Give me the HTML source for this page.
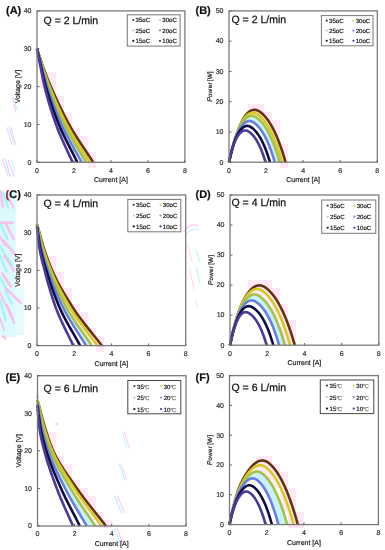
<!DOCTYPE html><html><head><meta charset="utf-8"><style>html,body{margin:0;padding:0;background:#fff;}svg{display:block;will-change:transform;}text{font-family:"Liberation Sans", sans-serif;text-rendering:geometricPrecision;}</style></head><body>
<svg width="385" height="550" viewBox="0 0 385 550">
<rect width="385" height="550" fill="#fff"/>
<g>
<g><rect x="0" y="192" width="15.8" height="145" fill="#dcfafd"/><rect x="15.8" y="288" width="8.5" height="47" fill="#e6fbfd"/><path d="M0.3 191L2.8 207" stroke="#ffb4ea" stroke-width="2.6" stroke-linecap="round" opacity="0.75"/><path d="M2.5 192L8 207.5" stroke="#9ef0f8" stroke-width="2.6" stroke-linecap="round" opacity="0.8"/><path d="M7.5 196L13.2 207.5" stroke="#ffb4ea" stroke-width="2.34" stroke-linecap="round" opacity="0.75"/><path d="M1.2 222.6L12.5 222.8" stroke="#ffb4ea" stroke-width="3.12" stroke-linecap="round" opacity="0.75"/><path d="M5.5 223.5L13.4 238.5" stroke="#ffb4ea" stroke-width="2.86" stroke-linecap="round" opacity="0.75"/><path d="M0.2 223.5L7.4 239" stroke="#9ef0f8" stroke-width="2.6" stroke-linecap="round" opacity="0.8"/><path d="M0.2 236.5L5.2 245.5" stroke="#ffb4ea" stroke-width="2.34" stroke-linecap="round" opacity="0.75"/><path d="M3.4 240.5L15 254.3" stroke="#ffb4ea" stroke-width="2.86" stroke-linecap="round" opacity="0.75"/><path d="M0.2 246L6.4 257.5" stroke="#9ef0f8" stroke-width="2.6" stroke-linecap="round" opacity="0.8"/><path d="M0.2 255.5L6.4 271.2" stroke="#9ef0f8" stroke-width="2.6" stroke-linecap="round" opacity="0.8"/><path d="M4.6 256.2L14 270.2" stroke="#ffb4ea" stroke-width="2.86" stroke-linecap="round" opacity="0.75"/><path d="M8 258L12.5 266" stroke="#9ef0f8" stroke-width="2.08" stroke-linecap="round" opacity="0.8"/><path d="M2.4 273.6L10.8 286.4" stroke="#ffb4ea" stroke-width="2.86" stroke-linecap="round" opacity="0.75"/><path d="M0.2 277L6.4 289.8" stroke="#9ef0f8" stroke-width="2.6" stroke-linecap="round" opacity="0.8"/><path d="M6.6 289L20.5 302.8" stroke="#ffb4ea" stroke-width="2.86" stroke-linecap="round" opacity="0.75"/><path d="M5.6 291.2L11.8 303.8" stroke="#9ef0f8" stroke-width="2.34" stroke-linecap="round" opacity="0.8"/><path d="M0.2 293L4 302" stroke="#ffb4ea" stroke-width="2.08" stroke-linecap="round" opacity="0.75"/><path d="M5.4 304L11.6 316" stroke="#ffb4ea" stroke-width="2.6" stroke-linecap="round" opacity="0.75"/><path d="M0.2 300L5.6 320" stroke="#9ef0f8" stroke-width="2.6" stroke-linecap="round" opacity="0.8"/><path d="M6.6 304.6L14 322.6" stroke="#ffb4ea" stroke-width="2.6" stroke-linecap="round" opacity="0.75"/><path d="M0.2 318L4 330" stroke="#ffb4ea" stroke-width="2.08" stroke-linecap="round" opacity="0.75"/><path d="M3 336.5L5.6 338.5" stroke="#ffb4ea" stroke-width="2.86" stroke-linecap="round" opacity="0.75"/><path d="M12.4 98L15.8 112" stroke="#ffb4ea" stroke-width="1" stroke-linecap="round" opacity="0.75"/><path d="M13.8 98L16.8 110" stroke="#9ef0f8" stroke-width="0.9" stroke-linecap="round" opacity="0.8"/><path d="M7 127.5L12 144.5" stroke="#ffb4ea" stroke-width="1" stroke-linecap="round" opacity="0.75"/><path d="M9.3 127.5L14.5 144.5" stroke="#9ef0f8" stroke-width="1.2" stroke-linecap="round" opacity="0.8"/><path d="M11.2 128L15.6 144" stroke="#ffb4ea" stroke-width="0.9" stroke-linecap="round" opacity="0.75"/><path d="M2.3 159L8 176" stroke="#ffb4ea" stroke-width="1.1" stroke-linecap="round" opacity="0.75"/><path d="M5 159L10.2 176" stroke="#9ef0f8" stroke-width="1.4" stroke-linecap="round" opacity="0.8"/><path d="M8 160L14 176" stroke="#ffb4ea" stroke-width="1.1" stroke-linecap="round" opacity="0.75"/><path d="M12 160L15 172" stroke="#9ef0f8" stroke-width="0.8" stroke-linecap="round" opacity="0.8"/><path d="M122.6 433L127 448" stroke="#9ef0f8" stroke-width="1" stroke-linecap="round" opacity="0.8"/><path d="M124.4 432L129.4 448" stroke="#ffb4ea" stroke-width="1" stroke-linecap="round" opacity="0.75"/><path d="M119.4 464L124.4 480" stroke="#9ef0f8" stroke-width="1.1" stroke-linecap="round" opacity="0.8"/><path d="M121.4 464L126.6 480" stroke="#ffb4ea" stroke-width="1" stroke-linecap="round" opacity="0.75"/><path d="M114.8 496L121.6 513" stroke="#9ef0f8" stroke-width="1.1" stroke-linecap="round" opacity="0.8"/><path d="M117.4 496L124.8 513" stroke="#ffb4ea" stroke-width="1.1" stroke-linecap="round" opacity="0.75"/><path d="M114.8 528L120.6 545" stroke="#9ef0f8" stroke-width="1.1" stroke-linecap="round" opacity="0.8"/><path d="M117.2 528L122.8 545" stroke="#ffb4ea" stroke-width="1" stroke-linecap="round" opacity="0.75"/><path d="M196.5 250L199.5 262" stroke="#9ef0f8" stroke-width="1" stroke-linecap="round" opacity="0.8"/><path d="M196.5 268L199.5 282" stroke="#9ef0f8" stroke-width="1" stroke-linecap="round" opacity="0.8"/><path d="M195.5 300L197.5 306" stroke="#9ef0f8" stroke-width="0.9" stroke-linecap="round" opacity="0.8"/><path d="M188 245L192 262" stroke="#ffb4ea" stroke-width="0.8" stroke-linecap="round" opacity="0.75"/><path d="M190 270L194 290" stroke="#ffb4ea" stroke-width="0.8" stroke-linecap="round" opacity="0.75"/><path d="M183.5 232 Q190 222 199 226" stroke="#ffb4ea" stroke-width="1.2" fill="none" opacity="0.7"/><path d="M184.5 236 Q191 227 199 230" stroke="#9ef0f8" stroke-width="1.2" fill="none" opacity="0.7"/><rect x="36.6" y="395.5" width="1.8" height="3" fill="#f060a0" opacity="0.8"/><circle cx="56.5" cy="424" r="1.3" fill="#a8f0f8"/></g>
<g fill="#fde8f6"><rect x="40" y="72" width="8" height="8"/><rect x="40" y="80" width="8" height="8"/><rect x="40" y="256" width="8" height="8"/><rect x="40" y="432" width="8" height="8"/><rect x="48" y="72" width="8" height="8"/><rect x="48" y="80" width="8" height="8"/><rect x="48" y="88" width="8" height="8"/><rect x="48" y="96" width="8" height="8"/><rect x="48" y="256" width="8" height="8"/><rect x="48" y="264" width="8" height="8"/><rect x="48" y="272" width="8" height="8"/><rect x="48" y="280" width="8" height="8"/><rect x="48" y="432" width="8" height="8"/><rect x="48" y="440" width="8" height="8"/><rect x="48" y="448" width="8" height="8"/><rect x="48" y="456" width="8" height="8"/><rect x="56" y="96" width="8" height="8"/><rect x="56" y="104" width="8" height="8"/><rect x="56" y="112" width="8" height="8"/><rect x="56" y="272" width="8" height="8"/><rect x="56" y="280" width="8" height="8"/><rect x="56" y="288" width="8" height="8"/><rect x="56" y="296" width="8" height="8"/><rect x="56" y="456" width="8" height="8"/><rect x="56" y="464" width="8" height="8"/><rect x="56" y="472" width="8" height="8"/><rect x="64" y="112" width="8" height="8"/><rect x="64" y="120" width="8" height="8"/><rect x="64" y="128" width="8" height="8"/><rect x="64" y="288" width="8" height="8"/><rect x="64" y="296" width="8" height="8"/><rect x="64" y="304" width="8" height="8"/><rect x="64" y="464" width="8" height="8"/><rect x="64" y="472" width="8" height="8"/><rect x="64" y="480" width="8" height="8"/><rect x="72" y="128" width="8" height="8"/><rect x="72" y="136" width="8" height="8"/><rect x="72" y="144" width="8" height="8"/><rect x="72" y="304" width="8" height="8"/><rect x="72" y="312" width="8" height="8"/><rect x="72" y="320" width="8" height="8"/><rect x="72" y="480" width="8" height="8"/><rect x="72" y="488" width="8" height="8"/><rect x="72" y="496" width="8" height="8"/><rect x="80" y="136" width="8" height="8"/><rect x="80" y="144" width="8" height="8"/><rect x="80" y="152" width="8" height="8"/><rect x="80" y="312" width="8" height="8"/><rect x="80" y="320" width="8" height="8"/><rect x="80" y="328" width="8" height="8"/><rect x="80" y="488" width="8" height="8"/><rect x="80" y="496" width="8" height="8"/><rect x="80" y="504" width="8" height="8"/><rect x="88" y="152" width="8" height="8"/><rect x="88" y="160" width="8" height="8"/><rect x="88" y="328" width="8" height="8"/><rect x="88" y="336" width="8" height="8"/><rect x="88" y="496" width="8" height="8"/><rect x="88" y="504" width="8" height="8"/><rect x="88" y="512" width="8" height="8"/><rect x="96" y="336" width="8" height="8"/><rect x="96" y="344" width="8" height="8"/><rect x="96" y="512" width="8" height="8"/><rect x="96" y="520" width="8" height="8"/><rect x="104" y="520" width="8" height="8"/><rect x="248" y="104" width="8" height="8"/><rect x="248" y="112" width="8" height="8"/><rect x="248" y="280" width="8" height="8"/><rect x="248" y="288" width="8" height="8"/><rect x="256" y="104" width="8" height="8"/><rect x="256" y="112" width="8" height="8"/><rect x="256" y="120" width="8" height="8"/><rect x="256" y="280" width="8" height="8"/><rect x="256" y="288" width="8" height="8"/><rect x="256" y="456" width="8" height="8"/><rect x="256" y="464" width="8" height="8"/><rect x="264" y="112" width="8" height="8"/><rect x="264" y="120" width="8" height="8"/><rect x="264" y="128" width="8" height="8"/><rect x="264" y="280" width="8" height="8"/><rect x="264" y="288" width="8" height="8"/><rect x="264" y="296" width="8" height="8"/><rect x="264" y="456" width="8" height="8"/><rect x="264" y="464" width="8" height="8"/><rect x="264" y="472" width="8" height="8"/><rect x="272" y="120" width="8" height="8"/><rect x="272" y="128" width="8" height="8"/><rect x="272" y="136" width="8" height="8"/><rect x="272" y="144" width="8" height="8"/><rect x="272" y="152" width="8" height="8"/><rect x="272" y="288" width="8" height="8"/><rect x="272" y="296" width="8" height="8"/><rect x="272" y="304" width="8" height="8"/><rect x="272" y="312" width="8" height="8"/><rect x="272" y="464" width="8" height="8"/><rect x="272" y="472" width="8" height="8"/><rect x="272" y="480" width="8" height="8"/><rect x="280" y="144" width="8" height="8"/><rect x="280" y="152" width="8" height="8"/><rect x="280" y="160" width="8" height="8"/><rect x="280" y="304" width="8" height="8"/><rect x="280" y="312" width="8" height="8"/><rect x="280" y="320" width="8" height="8"/><rect x="280" y="328" width="8" height="8"/><rect x="280" y="336" width="8" height="8"/><rect x="280" y="472" width="8" height="8"/><rect x="280" y="480" width="8" height="8"/><rect x="280" y="488" width="8" height="8"/><rect x="280" y="496" width="8" height="8"/><rect x="280" y="504" width="8" height="8"/><rect x="288" y="320" width="8" height="8"/><rect x="288" y="328" width="8" height="8"/><rect x="288" y="336" width="8" height="8"/><rect x="288" y="488" width="8" height="8"/><rect x="288" y="496" width="8" height="8"/><rect x="288" y="504" width="8" height="8"/><rect x="288" y="512" width="8" height="8"/><rect x="288" y="520" width="8" height="8"/><rect x="296" y="512" width="8" height="8"/><rect x="296" y="520" width="8" height="8"/></g>
<g><path d="M81.55 162.3 L80.8 160.88 L80.03 159.46 L79.26 158.04 L78.48 156.62 L77.7 155.2 L76.91 153.78 L76.12 152.36 L75.32 150.95 L74.53 149.53 L73.74 148.11 L72.94 146.69 L72.15 145.27 L71.37 143.85 L70.58 142.43 L69.81 141.01 L69.04 139.59 L68.27 138.17 L67.52 136.75 L66.77 135.33 L66.04 133.91 L65.31 132.49 L64.6 131.07 L63.91 129.65 L63.23 128.24 L62.56 126.82 L61.91 125.4 L61.28 123.98 L60.66 122.56 L60.04 121.14 L59.43 119.72 L58.83 118.3 L58.23 116.88 L57.65 115.46 L57.06 114.04 L56.49 112.62 L55.92 111.2 L55.36 109.78 L54.8 108.36 L54.25 106.94 L53.71 105.53 L53.17 104.11 L52.64 102.69 L52.12 101.27 L51.61 99.85 L51.1 98.43 L50.59 97.01 L50.1 95.59 L49.61 94.17 L49.12 92.75 L48.65 91.33 L48.18 89.91 L47.71 88.49 L47.25 87.07 L46.81 85.65 L46.37 84.23 L45.94 82.82 L45.53 81.4 L45.12 79.98 L44.73 78.56 L44.33 77.14 L43.94 75.72 L43.56 74.3 L43.17 72.88 L42.79 71.46 L42.41 70.04 L42.04 68.62 L41.67 67.2 L41.3 65.78 L40.94 64.36 L40.58 62.94 L40.22 61.52 L39.86 60.11 L39.5 58.69 L39.15 57.27 L38.79 55.85 L38.43 54.43 L38.08 53.01 L37.72 51.59 L37.36 50.17 L37 48.75 L37 48.75 L37.4 50.17 L37.81 51.59 L38.2 53.01 L38.6 54.43 L39 55.85 L39.39 57.27 L39.79 58.69 L40.19 60.11 L40.59 61.52 L40.99 62.94 L41.39 64.36 L41.8 65.78 L42.21 67.2 L42.63 68.62 L43.05 70.04 L43.48 71.46 L43.91 72.88 L44.35 74.3 L44.8 75.72 L45.24 77.14 L45.7 78.56 L46.16 79.98 L46.63 81.4 L47.1 82.82 L47.59 84.23 L48.09 85.65 L48.6 87.07 L49.12 88.49 L49.64 89.91 L50.16 91.33 L50.7 92.75 L51.24 94.17 L51.78 95.59 L52.33 97.01 L52.89 98.43 L53.45 99.85 L54.02 101.27 L54.6 102.69 L55.18 104.11 L55.77 105.53 L56.36 106.94 L56.96 108.36 L57.57 109.78 L58.19 111.2 L58.81 112.62 L59.44 114.04 L60.07 115.46 L60.72 116.88 L61.37 118.3 L62.02 119.72 L62.69 121.14 L63.36 122.56 L64.04 123.98 L64.73 125.4 L65.44 126.82 L66.17 128.24 L66.91 129.65 L67.66 131.07 L68.44 132.49 L69.22 133.91 L70.02 135.33 L70.82 136.75 L71.64 138.17 L72.47 139.59 L73.3 141.01 L74.14 142.43 L74.99 143.85 L75.84 145.27 L76.69 146.69 L77.55 148.11 L78.4 149.53 L79.26 150.95 L80.12 152.36 L80.97 153.78 L81.82 155.2 L82.67 156.62 L83.51 158.04 L84.34 159.46 L85.17 160.88 L85.99 162.3 Z" fill="#c8f2f8" stroke="none"/><path d="M93.2 162.3 L92.29 160.88 L91.37 159.46 L90.45 158.04 L89.52 156.62 L88.58 155.2 L87.64 153.78 L86.7 152.36 L85.75 150.95 L84.8 149.53 L83.86 148.11 L82.91 146.69 L81.97 145.27 L81.03 143.85 L80.09 142.43 L79.16 141.01 L78.24 139.59 L77.32 138.17 L76.41 136.75 L75.52 135.33 L74.63 133.91 L73.75 132.49 L72.89 131.07 L72.04 129.65 L71.21 128.24 L70.39 126.82 L69.59 125.4 L68.81 123.98 L68.04 122.56 L67.28 121.14 L66.53 119.72 L65.78 118.3 L65.05 116.88 L64.32 115.46 L63.6 114.04 L62.89 112.62 L62.18 111.2 L61.48 109.78 L60.79 108.36 L60.11 106.94 L59.43 105.53 L58.75 104.11 L58.09 102.69 L57.43 101.27 L56.77 99.85 L56.12 98.43 L55.47 97.01 L54.83 95.59 L54.19 94.17 L53.55 92.75 L52.92 91.33 L52.3 89.91 L51.67 88.49 L51.05 87.07 L50.43 85.65 L49.82 84.23 L49.21 82.82 L48.61 81.4 L48.02 79.98 L47.44 78.56 L46.87 77.14 L46.31 75.72 L45.76 74.3 L45.22 72.88 L44.69 71.46 L44.17 70.04 L43.66 68.62 L43.16 67.2 L42.67 65.78 L42.18 64.36 L41.7 62.94 L41.23 61.52 L40.76 60.11 L40.29 58.69 L39.82 57.27 L39.36 55.85 L38.89 54.43 L38.42 53.01 L37.95 51.59 L37.48 50.17 L37 48.75" fill="none" stroke="#663210" stroke-width="2.6" stroke-linejoin="round" stroke-linecap="butt"/><path d="M89.5 162.3 L88.64 160.88 L87.77 159.46 L86.89 158.04 L86 156.62 L85.11 155.2 L84.22 153.78 L83.32 152.36 L82.42 150.95 L81.51 149.53 L80.61 148.11 L79.71 146.69 L78.81 145.27 L77.92 143.85 L77.03 142.43 L76.14 141.01 L75.27 139.59 L74.4 138.17 L73.53 136.75 L72.68 135.33 L71.84 133.91 L71.01 132.49 L70.2 131.07 L69.39 129.65 L68.61 128.24 L67.84 126.82 L67.08 125.4 L66.35 123.98 L65.63 122.56 L64.91 121.14 L64.2 119.72 L63.5 118.3 L62.81 116.88 L62.12 115.46 L61.45 114.04 L60.78 112.62 L60.11 111.2 L59.46 109.78 L58.81 108.36 L58.17 106.94 L57.53 105.53 L56.9 104.11 L56.28 102.69 L55.66 101.27 L55.05 99.85 L54.44 98.43 L53.84 97.01 L53.25 95.59 L52.66 94.17 L52.07 92.75 L51.49 91.33 L50.92 89.91 L50.35 88.49 L49.78 87.07 L49.22 85.65 L48.66 84.23 L48.12 82.82 L47.58 81.4 L47.06 79.98 L46.54 78.56 L46.03 77.14 L45.53 75.72 L45.03 74.3 L44.54 72.88 L44.06 71.46 L43.59 70.04 L43.13 68.62 L42.67 67.2 L42.22 65.78 L41.77 64.36 L41.33 62.94 L40.9 61.52 L40.46 60.11 L40.03 58.69 L39.6 57.27 L39.17 55.85 L38.74 54.43 L38.31 53.01 L37.88 51.59 L37.44 50.17 L37 48.75" fill="none" stroke="#d6ca22" stroke-width="2.6" stroke-linejoin="round" stroke-linecap="butt"/><path d="M85.99 162.3 L85.17 160.88 L84.34 159.46 L83.51 158.04 L82.67 156.62 L81.82 155.2 L80.97 153.78 L80.12 152.36 L79.26 150.95 L78.4 149.53 L77.55 148.11 L76.69 146.69 L75.84 145.27 L74.99 143.85 L74.14 142.43 L73.3 141.01 L72.47 139.59 L71.64 138.17 L70.82 136.75 L70.02 135.33 L69.22 133.91 L68.44 132.49 L67.66 131.07 L66.91 129.65 L66.17 128.24 L65.44 126.82 L64.73 125.4 L64.04 123.98 L63.36 122.56 L62.69 121.14 L62.02 119.72 L61.37 118.3 L60.72 116.88 L60.07 115.46 L59.44 114.04 L58.81 112.62 L58.19 111.2 L57.57 109.78 L56.96 108.36 L56.36 106.94 L55.77 105.53 L55.18 104.11 L54.6 102.69 L54.02 101.27 L53.45 99.85 L52.89 98.43 L52.33 97.01 L51.78 95.59 L51.24 94.17 L50.7 92.75 L50.16 91.33 L49.64 89.91 L49.12 88.49 L48.6 87.07 L48.09 85.65 L47.59 84.23 L47.1 82.82 L46.63 81.4 L46.16 79.98 L45.7 78.56 L45.24 77.14 L44.8 75.72 L44.35 74.3 L43.91 72.88 L43.48 71.46 L43.05 70.04 L42.63 68.62 L42.21 67.2 L41.8 65.78 L41.39 64.36 L40.99 62.94 L40.59 61.52 L40.19 60.11 L39.79 58.69 L39.39 57.27 L39 55.85 L38.6 54.43 L38.2 53.01 L37.81 51.59 L37.4 50.17 L37 48.75" fill="none" stroke="#a4c24a" stroke-width="2.6" stroke-linejoin="round" stroke-linecap="butt"/><path d="M81.55 162.3 L80.8 160.88 L80.03 159.46 L79.26 158.04 L78.48 156.62 L77.7 155.2 L76.91 153.78 L76.12 152.36 L75.32 150.95 L74.53 149.53 L73.74 148.11 L72.94 146.69 L72.15 145.27 L71.37 143.85 L70.58 142.43 L69.81 141.01 L69.04 139.59 L68.27 138.17 L67.52 136.75 L66.77 135.33 L66.04 133.91 L65.31 132.49 L64.6 131.07 L63.91 129.65 L63.23 128.24 L62.56 126.82 L61.91 125.4 L61.28 123.98 L60.66 122.56 L60.04 121.14 L59.43 119.72 L58.83 118.3 L58.23 116.88 L57.65 115.46 L57.06 114.04 L56.49 112.62 L55.92 111.2 L55.36 109.78 L54.8 108.36 L54.25 106.94 L53.71 105.53 L53.17 104.11 L52.64 102.69 L52.12 101.27 L51.61 99.85 L51.1 98.43 L50.59 97.01 L50.1 95.59 L49.61 94.17 L49.12 92.75 L48.65 91.33 L48.18 89.91 L47.71 88.49 L47.25 87.07 L46.81 85.65 L46.37 84.23 L45.94 82.82 L45.53 81.4 L45.12 79.98 L44.73 78.56 L44.33 77.14 L43.94 75.72 L43.56 74.3 L43.17 72.88 L42.79 71.46 L42.41 70.04 L42.04 68.62 L41.67 67.2 L41.3 65.78 L40.94 64.36 L40.58 62.94 L40.22 61.52 L39.86 60.11 L39.5 58.69 L39.15 57.27 L38.79 55.85 L38.43 54.43 L38.08 53.01 L37.72 51.59 L37.36 50.17 L37 48.75" fill="none" stroke="#6a7ee0" stroke-width="2.6" stroke-linejoin="round" stroke-linecap="butt"/><path d="M77.3 162.3 L76.61 160.88 L75.9 159.46 L75.19 158.04 L74.48 156.62 L73.75 155.2 L73.03 153.78 L72.3 152.36 L71.57 150.95 L70.84 149.53 L70.11 148.11 L69.38 146.69 L68.65 145.27 L67.93 143.85 L67.2 142.43 L66.49 141.01 L65.78 139.59 L65.08 138.17 L64.38 136.75 L63.7 135.33 L63.03 133.91 L62.36 132.49 L61.71 131.07 L61.08 129.65 L60.45 128.24 L59.85 126.82 L59.25 125.4 L58.68 123.98 L58.11 122.56 L57.55 121.14 L57 119.72 L56.45 118.3 L55.91 116.88 L55.37 115.46 L54.84 114.04 L54.32 112.62 L53.8 111.2 L53.29 109.78 L52.78 108.36 L52.28 106.94 L51.79 105.53 L51.31 104.11 L50.83 102.69 L50.36 101.27 L49.89 99.85 L49.43 98.43 L48.98 97.01 L48.53 95.59 L48.1 94.17 L47.67 92.75 L47.24 91.33 L46.82 89.91 L46.41 88.49 L46.01 87.07 L45.62 85.65 L45.24 84.23 L44.87 82.82 L44.51 81.4 L44.16 79.98 L43.82 78.56 L43.48 77.14 L43.15 75.72 L42.82 74.3 L42.48 72.88 L42.15 71.46 L41.82 70.04 L41.48 68.62 L41.16 67.2 L40.83 65.78 L40.51 64.36 L40.19 62.94 L39.87 61.52 L39.55 60.11 L39.23 58.69 L38.91 57.27 L38.6 55.85 L38.28 54.43 L37.96 53.01 L37.64 51.59 L37.32 50.17 L37 48.75" fill="none" stroke="#0e0e40" stroke-width="2.6" stroke-linejoin="round" stroke-linecap="butt"/><path d="M72.5 162.3 L71.87 160.88 L71.24 159.46 L70.61 158.04 L69.97 156.62 L69.32 155.2 L68.67 153.78 L68.02 152.36 L67.36 150.95 L66.71 149.53 L66.05 148.11 L65.4 146.69 L64.74 145.27 L64.09 143.85 L63.45 142.43 L62.81 141.01 L62.17 139.59 L61.55 138.17 L60.93 136.75 L60.31 135.33 L59.71 133.91 L59.12 132.49 L58.54 131.07 L57.97 129.65 L57.42 128.24 L56.88 126.82 L56.35 125.4 L55.84 123.98 L55.34 122.56 L54.85 121.14 L54.35 119.72 L53.87 118.3 L53.39 116.88 L52.91 115.46 L52.44 114.04 L51.98 112.62 L51.52 111.2 L51.07 109.78 L50.62 108.36 L50.18 106.94 L49.74 105.53 L49.32 104.11 L48.89 102.69 L48.48 101.27 L48.07 99.85 L47.67 98.43 L47.27 97.01 L46.88 95.59 L46.5 94.17 L46.13 92.75 L45.76 91.33 L45.4 89.91 L45.05 88.49 L44.7 87.07 L44.36 85.65 L44.04 84.23 L43.73 82.82 L43.43 81.4 L43.14 79.98 L42.86 78.56 L42.58 77.14 L42.3 75.72 L42.02 74.3 L41.74 72.88 L41.45 71.46 L41.17 70.04 L40.89 68.62 L40.6 67.2 L40.32 65.78 L40.05 64.36 L39.77 62.94 L39.49 61.52 L39.21 60.11 L38.94 58.69 L38.66 57.27 L38.38 55.85 L38.11 54.43 L37.83 53.01 L37.56 51.59 L37.28 50.17 L37 48.75" fill="none" stroke="#4a3a9a" stroke-width="2.6" stroke-linejoin="round" stroke-linecap="butt"/><rect x="37" y="10.9" width="147.9" height="151.4" fill="none" stroke="#7a7a7a" stroke-width="1.3"/><path d="M37 162.3h2.5 M37 124.45h2.5 M37 86.6h2.5 M37 48.75h2.5 M37 10.9h2.5 M37 162.3v-2.2 M73.97 162.3v-2.2 M110.95 162.3v-2.2 M147.93 162.3v-2.2 M184.9 162.3v-2.2" stroke="#666" stroke-width="1" fill="none"/><text x="31.5" y="164.6" font-size="7" fill="#333" text-anchor="end" stroke="#333" stroke-width="0.2">0</text><text x="31.5" y="126.75" font-size="7" fill="#333" text-anchor="end" stroke="#333" stroke-width="0.2">10</text><text x="31.5" y="88.9" font-size="7" fill="#333" text-anchor="end" stroke="#333" stroke-width="0.2">20</text><text x="31.5" y="51.05" font-size="7" fill="#333" text-anchor="end" stroke="#333" stroke-width="0.2">30</text><text x="31.5" y="13.2" font-size="7" fill="#333" text-anchor="end" stroke="#333" stroke-width="0.2">40</text><text x="37" y="172.7" font-size="7" fill="#333" text-anchor="middle" stroke="#333" stroke-width="0.2">0</text><text x="73.97" y="172.7" font-size="7" fill="#333" text-anchor="middle" stroke="#333" stroke-width="0.2">2</text><text x="110.95" y="172.7" font-size="7" fill="#333" text-anchor="middle" stroke="#333" stroke-width="0.2">4</text><text x="147.93" y="172.7" font-size="7" fill="#333" text-anchor="middle" stroke="#333" stroke-width="0.2">6</text><text x="184.9" y="172.7" font-size="7" fill="#333" text-anchor="middle" stroke="#333" stroke-width="0.2">8</text><text x="110.95" y="182.4" font-size="7" fill="#222" text-anchor="middle" stroke="#222" stroke-width="0.2">Current [A]</text><text transform="translate(20.2 86.6) rotate(-90)" font-size="6.9" fill="#222" text-anchor="middle" stroke="#222" stroke-width="0.2">Voltage [V]</text><text x="43.6" y="23.8" font-size="10.5" fill="#111" stroke="#111" stroke-width="0.25">Q = 2 L/min</text><text x="6" y="14.2" font-size="11" font-weight="bold" fill="#111" stroke="#111" stroke-width="0.2">(A)</text><rect x="127.3" y="14.8" width="52.8" height="31.3" fill="#fff" stroke="#777" stroke-width="1"/><circle cx="133.3" cy="20.02" r="1.1" fill="#6a3612"/><text x="135.6" y="22.17" font-size="6.1" fill="#1a1a1a" stroke="#1a1a1a" stroke-width="0.2">35oC</text><circle cx="160" cy="20.02" r="1.1" fill="#c8dc60"/><text x="162.3" y="22.17" font-size="6.1" fill="#1a1a1a" stroke="#1a1a1a" stroke-width="0.2">30oC</text><circle cx="133.3" cy="30.45" r="1.1" fill="#d8c890"/><text x="135.6" y="32.6" font-size="6.1" fill="#1a1a1a" stroke="#1a1a1a" stroke-width="0.2">25oC</text><circle cx="160" cy="30.45" r="1.1" fill="#8a88e0"/><text x="162.3" y="32.6" font-size="6.1" fill="#1a1a1a" stroke="#1a1a1a" stroke-width="0.2">20oC</text><circle cx="133.3" cy="40.88" r="1.1" fill="#141450"/><text x="135.6" y="43.03" font-size="6.1" fill="#1a1a1a" stroke="#1a1a1a" stroke-width="0.2">15oC</text><circle cx="160" cy="40.88" r="1.1" fill="#4a3a96"/><text x="162.3" y="43.03" font-size="6.1" fill="#1a1a1a" stroke="#1a1a1a" stroke-width="0.2">10oC</text></g>
<g><path d="M274.79 162.2 L274.27 160.43 L273.75 158.7 L273.22 157.01 L272.69 155.36 L272.16 153.75 L271.63 152.19 L271.09 150.67 L270.55 149.19 L270.01 147.76 L269.47 146.36 L268.93 145.01 L268.39 143.7 L267.84 142.44 L267.3 141.22 L266.75 140.04 L266.21 138.9 L265.67 137.81 L265.13 136.75 L264.59 135.74 L264.05 134.77 L263.51 133.84 L262.98 132.95 L262.45 132.09 L261.92 131.28 L261.4 130.5 L260.88 129.77 L260.36 129.06 L259.85 128.4 L259.34 127.77 L258.84 127.17 L258.34 126.6 L257.85 126.07 L257.37 125.57 L256.89 125.09 L256.42 124.65 L255.95 124.23 L255.49 123.84 L255.04 123.47 L254.6 123.13 L254.17 122.81 L253.74 122.51 L253.31 122.24 L252.89 122 L252.47 121.79 L252.05 121.6 L251.64 121.45 L251.23 121.31 L250.82 121.21 L250.42 121.13 L250.02 121.08 L249.62 121.05 L249.22 121.05 L248.83 121.07 L248.44 121.11 L248.06 121.18 L247.67 121.28 L247.29 121.39 L246.92 121.53 L246.54 121.7 L246.17 121.88 L245.8 122.09 L245.44 122.31 L245.08 122.56 L244.72 122.83 L244.36 123.12 L244.01 123.43 L243.66 123.76 L243.31 124.11 L242.97 124.48 L242.63 124.87 L242.29 125.27 L241.96 125.69 L241.62 126.14 L241.3 126.59 L240.97 127.07 L240.65 127.56 L240.33 128.07 L240.01 128.6 L239.69 129.14 L239.38 129.69 L239.08 130.26 L238.78 130.83 L238.48 131.41 L238.19 131.99 L237.91 132.58 L237.63 133.17 L237.35 133.78 L237.07 134.39 L236.8 135.02 L236.54 135.66 L236.27 136.31 L236 136.98 L235.74 137.67 L235.48 138.37 L235.21 139.1 L234.95 139.84 L234.69 140.59 L234.43 141.36 L234.18 142.14 L233.92 142.93 L233.67 143.74 L233.42 144.56 L233.17 145.39 L232.92 146.24 L232.67 147.1 L232.43 147.98 L232.18 148.87 L231.94 149.78 L231.69 150.71 L231.45 151.66 L231.21 152.62 L230.96 153.6 L230.72 154.6 L230.47 155.62 L230.23 156.66 L229.99 157.72 L229.74 158.81 L229.49 159.92 L229.25 161.05 L229 162.2 L229 162.2 L229.28 160.9 L229.56 159.63 L229.83 158.39 L230.11 157.17 L230.38 155.98 L230.65 154.82 L230.93 153.67 L231.2 152.55 L231.47 151.45 L231.75 150.38 L232.02 149.32 L232.29 148.28 L232.57 147.26 L232.84 146.25 L233.12 145.27 L233.4 144.3 L233.68 143.34 L233.96 142.4 L234.24 141.48 L234.53 140.57 L234.81 139.67 L235.1 138.78 L235.4 137.91 L235.69 137.05 L235.99 136.2 L236.29 135.36 L236.59 134.55 L236.9 133.75 L237.21 132.97 L237.52 132.2 L237.83 131.44 L238.14 130.7 L238.46 129.98 L238.78 129.27 L239.11 128.56 L239.44 127.87 L239.77 127.2 L240.11 126.53 L240.46 125.87 L240.81 125.23 L241.16 124.59 L241.52 123.98 L241.87 123.39 L242.24 122.82 L242.6 122.27 L242.97 121.74 L243.33 121.23 L243.71 120.75 L244.08 120.28 L244.46 119.84 L244.84 119.42 L245.22 119.02 L245.61 118.64 L245.99 118.29 L246.39 117.96 L246.78 117.65 L247.18 117.37 L247.58 117.11 L247.98 116.88 L248.38 116.67 L248.79 116.48 L249.21 116.32 L249.62 116.19 L250.04 116.08 L250.46 115.99 L250.88 115.94 L251.31 115.91 L251.74 115.9 L252.18 115.93 L252.61 115.98 L253.05 116.06 L253.5 116.17 L253.94 116.3 L254.39 116.47 L254.85 116.66 L255.31 116.89 L255.77 117.14 L256.23 117.43 L256.7 117.74 L257.17 118.09 L257.65 118.46 L258.13 118.86 L258.63 119.29 L259.13 119.74 L259.64 120.22 L260.15 120.73 L260.68 121.28 L261.2 121.85 L261.74 122.47 L262.28 123.11 L262.83 123.79 L263.38 124.51 L263.94 125.27 L264.5 126.07 L265.07 126.9 L265.64 127.78 L266.21 128.7 L266.79 129.66 L267.36 130.66 L267.95 131.71 L268.53 132.8 L269.12 133.93 L269.7 135.11 L270.29 136.33 L270.88 137.61 L271.47 138.92 L272.06 140.28 L272.65 141.69 L273.24 143.15 L273.83 144.65 L274.42 146.2 L275.01 147.79 L275.59 149.43 L276.17 151.12 L276.75 152.85 L277.33 154.63 L277.91 156.46 L278.48 158.33 L279.04 160.24 L279.61 162.2 Z" fill="#c8f2f8" stroke="none"/><path d="M285.54 162.2 L284.93 160.06 L284.32 157.97 L283.7 155.92 L283.08 153.92 L282.46 151.97 L281.83 150.07 L281.2 148.21 L280.58 146.41 L279.94 144.65 L279.31 142.95 L278.68 141.29 L278.04 139.68 L277.41 138.12 L276.77 136.6 L276.14 135.14 L275.5 133.73 L274.87 132.36 L274.24 131.04 L273.61 129.77 L272.98 128.54 L272.35 127.36 L271.73 126.23 L271.1 125.14 L270.48 124.1 L269.87 123.1 L269.26 122.14 L268.65 121.23 L268.05 120.36 L267.45 119.53 L266.85 118.74 L266.27 117.99 L265.68 117.28 L265.11 116.6 L264.54 115.96 L263.97 115.36 L263.42 114.78 L262.87 114.25 L262.32 113.74 L261.79 113.26 L261.26 112.81 L260.74 112.39 L260.23 112.01 L259.72 111.65 L259.21 111.33 L258.7 111.05 L258.2 110.79 L257.71 110.56 L257.21 110.37 L256.73 110.21 L256.24 110.08 L255.76 109.97 L255.28 109.9 L254.8 109.86 L254.33 109.85 L253.86 109.87 L253.4 109.92 L252.93 109.99 L252.47 110.1 L252.02 110.23 L251.56 110.39 L251.11 110.59 L250.66 110.8 L250.21 111.05 L249.77 111.33 L249.33 111.63 L248.89 111.97 L248.45 112.33 L248.01 112.72 L247.58 113.13 L247.15 113.58 L246.72 114.05 L246.29 114.55 L245.87 115.08 L245.44 115.64 L245.02 116.22 L244.6 116.83 L244.18 117.47 L243.76 118.14 L243.34 118.84 L242.93 119.57 L242.51 120.32 L242.1 121.09 L241.69 121.89 L241.29 122.71 L240.88 123.54 L240.49 124.4 L240.09 125.27 L239.7 126.17 L239.31 127.08 L238.93 128 L238.55 128.94 L238.18 129.89 L237.81 130.85 L237.44 131.82 L237.09 132.8 L236.73 133.79 L236.38 134.79 L236.04 135.8 L235.7 136.82 L235.36 137.85 L235.03 138.89 L234.7 139.95 L234.38 141.01 L234.05 142.09 L233.73 143.19 L233.41 144.3 L233.1 145.43 L232.78 146.57 L232.47 147.74 L232.15 148.92 L231.84 150.13 L231.53 151.36 L231.22 152.61 L230.9 153.9 L230.59 155.2 L230.28 156.54 L229.96 157.9 L229.64 159.3 L229.32 160.73 L229 162.2" fill="none" stroke="#663210" stroke-width="2.6" stroke-linejoin="round" stroke-linecap="butt"/><path d="M282.2 162.2 L281.62 160.15 L281.03 158.14 L280.44 156.18 L279.85 154.27 L279.25 152.4 L278.65 150.58 L278.05 148.81 L277.45 147.09 L276.84 145.41 L276.24 143.78 L275.63 142.2 L275.02 140.67 L274.41 139.18 L273.8 137.74 L273.19 136.35 L272.58 135.01 L271.98 133.71 L271.37 132.46 L270.77 131.26 L270.16 130.1 L269.56 128.99 L268.96 127.92 L268.37 126.9 L267.78 125.91 L267.19 124.98 L266.6 124.08 L266.02 123.23 L265.44 122.41 L264.87 121.64 L264.3 120.9 L263.74 120.21 L263.19 119.54 L262.64 118.92 L262.09 118.33 L261.56 117.77 L261.03 117.24 L260.51 116.75 L259.99 116.28 L259.48 115.84 L258.99 115.43 L258.49 115.05 L258.01 114.7 L257.52 114.38 L257.04 114.1 L256.56 113.84 L256.09 113.61 L255.62 113.42 L255.15 113.26 L254.69 113.12 L254.23 113.02 L253.77 112.94 L253.32 112.89 L252.87 112.88 L252.42 112.89 L251.98 112.92 L251.54 112.99 L251.1 113.08 L250.66 113.21 L250.23 113.35 L249.8 113.53 L249.38 113.73 L248.96 113.96 L248.54 114.21 L248.12 114.49 L247.7 114.8 L247.29 115.13 L246.88 115.49 L246.47 115.87 L246.07 116.28 L245.66 116.72 L245.26 117.18 L244.87 117.66 L244.47 118.17 L244.08 118.7 L243.68 119.26 L243.3 119.84 L242.91 120.44 L242.52 121.07 L242.14 121.73 L241.76 122.41 L241.38 123.11 L241 123.82 L240.63 124.55 L240.27 125.3 L239.9 126.06 L239.55 126.84 L239.19 127.63 L238.84 128.44 L238.49 129.26 L238.15 130.1 L237.81 130.95 L237.47 131.82 L237.14 132.7 L236.81 133.59 L236.48 134.5 L236.16 135.42 L235.84 136.35 L235.52 137.29 L235.21 138.24 L234.9 139.2 L234.59 140.18 L234.29 141.17 L233.99 142.17 L233.69 143.19 L233.39 144.22 L233.1 145.27 L232.8 146.34 L232.51 147.42 L232.22 148.52 L231.93 149.64 L231.64 150.79 L231.35 151.95 L231.06 153.14 L230.77 154.35 L230.47 155.59 L230.18 156.85 L229.89 158.15 L229.59 159.47 L229.3 160.82 L229 162.2" fill="none" stroke="#d6ca22" stroke-width="2.6" stroke-linejoin="round" stroke-linecap="butt"/><path d="M279.61 162.2 L279.04 160.24 L278.48 158.33 L277.91 156.46 L277.33 154.63 L276.75 152.85 L276.17 151.12 L275.59 149.43 L275.01 147.79 L274.42 146.2 L273.83 144.65 L273.24 143.15 L272.65 141.69 L272.06 140.28 L271.47 138.92 L270.88 137.61 L270.29 136.33 L269.7 135.11 L269.12 133.93 L268.53 132.8 L267.95 131.71 L267.36 130.66 L266.79 129.66 L266.21 128.7 L265.64 127.78 L265.07 126.9 L264.5 126.07 L263.94 125.27 L263.38 124.51 L262.83 123.79 L262.28 123.11 L261.74 122.47 L261.2 121.85 L260.68 121.28 L260.15 120.73 L259.64 120.22 L259.13 119.74 L258.63 119.29 L258.13 118.86 L257.65 118.46 L257.17 118.09 L256.7 117.74 L256.23 117.43 L255.77 117.14 L255.31 116.89 L254.85 116.66 L254.39 116.47 L253.94 116.3 L253.5 116.17 L253.05 116.06 L252.61 115.98 L252.18 115.93 L251.74 115.9 L251.31 115.91 L250.88 115.94 L250.46 115.99 L250.04 116.08 L249.62 116.19 L249.21 116.32 L248.79 116.48 L248.38 116.67 L247.98 116.88 L247.58 117.11 L247.18 117.37 L246.78 117.65 L246.39 117.96 L245.99 118.29 L245.61 118.64 L245.22 119.02 L244.84 119.42 L244.46 119.84 L244.08 120.28 L243.71 120.75 L243.33 121.23 L242.97 121.74 L242.6 122.27 L242.24 122.82 L241.87 123.39 L241.52 123.98 L241.16 124.59 L240.81 125.23 L240.46 125.87 L240.11 126.53 L239.77 127.2 L239.44 127.87 L239.11 128.56 L238.78 129.27 L238.46 129.98 L238.14 130.7 L237.83 131.44 L237.52 132.2 L237.21 132.97 L236.9 133.75 L236.59 134.55 L236.29 135.36 L235.99 136.2 L235.69 137.05 L235.4 137.91 L235.1 138.78 L234.81 139.67 L234.53 140.57 L234.24 141.48 L233.96 142.4 L233.68 143.34 L233.4 144.3 L233.12 145.27 L232.84 146.25 L232.57 147.26 L232.29 148.28 L232.02 149.32 L231.75 150.38 L231.47 151.45 L231.2 152.55 L230.93 153.67 L230.65 154.82 L230.38 155.98 L230.11 157.17 L229.83 158.39 L229.56 159.63 L229.28 160.9 L229 162.2" fill="none" stroke="#a4c24a" stroke-width="2.6" stroke-linejoin="round" stroke-linecap="butt"/><path d="M274.79 162.2 L274.27 160.43 L273.75 158.7 L273.22 157.01 L272.69 155.36 L272.16 153.75 L271.63 152.19 L271.09 150.67 L270.55 149.19 L270.01 147.76 L269.47 146.36 L268.93 145.01 L268.39 143.7 L267.84 142.44 L267.3 141.22 L266.75 140.04 L266.21 138.9 L265.67 137.81 L265.13 136.75 L264.59 135.74 L264.05 134.77 L263.51 133.84 L262.98 132.95 L262.45 132.09 L261.92 131.28 L261.4 130.5 L260.88 129.77 L260.36 129.06 L259.85 128.4 L259.34 127.77 L258.84 127.17 L258.34 126.6 L257.85 126.07 L257.37 125.57 L256.89 125.09 L256.42 124.65 L255.95 124.23 L255.49 123.84 L255.04 123.47 L254.6 123.13 L254.17 122.81 L253.74 122.51 L253.31 122.24 L252.89 122 L252.47 121.79 L252.05 121.6 L251.64 121.45 L251.23 121.31 L250.82 121.21 L250.42 121.13 L250.02 121.08 L249.62 121.05 L249.22 121.05 L248.83 121.07 L248.44 121.11 L248.06 121.18 L247.67 121.28 L247.29 121.39 L246.92 121.53 L246.54 121.7 L246.17 121.88 L245.8 122.09 L245.44 122.31 L245.08 122.56 L244.72 122.83 L244.36 123.12 L244.01 123.43 L243.66 123.76 L243.31 124.11 L242.97 124.48 L242.63 124.87 L242.29 125.27 L241.96 125.69 L241.62 126.14 L241.3 126.59 L240.97 127.07 L240.65 127.56 L240.33 128.07 L240.01 128.6 L239.69 129.14 L239.38 129.69 L239.08 130.26 L238.78 130.83 L238.48 131.41 L238.19 131.99 L237.91 132.58 L237.63 133.17 L237.35 133.78 L237.07 134.39 L236.8 135.02 L236.54 135.66 L236.27 136.31 L236 136.98 L235.74 137.67 L235.48 138.37 L235.21 139.1 L234.95 139.84 L234.69 140.59 L234.43 141.36 L234.18 142.14 L233.92 142.93 L233.67 143.74 L233.42 144.56 L233.17 145.39 L232.92 146.24 L232.67 147.1 L232.43 147.98 L232.18 148.87 L231.94 149.78 L231.69 150.71 L231.45 151.66 L231.21 152.62 L230.96 153.6 L230.72 154.6 L230.47 155.62 L230.23 156.66 L229.99 157.72 L229.74 158.81 L229.49 159.92 L229.25 161.05 L229 162.2" fill="none" stroke="#6a7ee0" stroke-width="2.6" stroke-linejoin="round" stroke-linecap="butt"/><path d="M269.97 162.2 L269.5 160.61 L269.02 159.06 L268.55 157.54 L268.06 156.07 L267.58 154.63 L267.09 153.23 L266.61 151.86 L266.12 150.54 L265.62 149.26 L265.13 148.01 L264.64 146.81 L264.14 145.64 L263.65 144.52 L263.15 143.43 L262.65 142.38 L262.16 141.37 L261.67 140.4 L261.17 139.46 L260.68 138.57 L260.19 137.71 L259.7 136.89 L259.22 136.1 L258.74 135.35 L258.26 134.63 L257.78 133.95 L257.31 133.31 L256.84 132.69 L256.37 132.11 L255.91 131.56 L255.46 131.04 L255.01 130.55 L254.56 130.09 L254.12 129.65 L253.69 129.25 L253.26 128.86 L252.84 128.5 L252.43 128.17 L252.02 127.86 L251.62 127.56 L251.23 127.29 L250.84 127.04 L250.46 126.81 L250.08 126.61 L249.7 126.44 L249.33 126.29 L248.96 126.16 L248.59 126.06 L248.22 125.98 L247.85 125.93 L247.49 125.9 L247.13 125.89 L246.78 125.9 L246.43 125.94 L246.08 126 L245.73 126.08 L245.38 126.18 L245.04 126.3 L244.71 126.44 L244.37 126.6 L244.04 126.78 L243.71 126.98 L243.38 127.19 L243.06 127.43 L242.74 127.69 L242.42 127.96 L242.1 128.25 L241.79 128.55 L241.48 128.87 L241.18 129.21 L240.88 129.56 L240.58 129.93 L240.28 130.31 L239.99 130.71 L239.7 131.12 L239.41 131.55 L239.13 131.98 L238.85 132.44 L238.57 132.9 L238.29 133.37 L238.02 133.86 L237.76 134.35 L237.5 134.84 L237.25 135.33 L237 135.82 L236.75 136.32 L236.52 136.82 L236.28 137.33 L236.05 137.85 L235.82 138.37 L235.59 138.91 L235.36 139.46 L235.14 140.02 L234.91 140.61 L234.69 141.21 L234.46 141.83 L234.23 142.48 L234.01 143.13 L233.78 143.8 L233.56 144.48 L233.34 145.17 L233.12 145.88 L232.9 146.6 L232.68 147.33 L232.46 148.08 L232.24 148.84 L232.02 149.62 L231.81 150.41 L231.59 151.21 L231.38 152.03 L231.16 152.87 L230.95 153.72 L230.73 154.59 L230.51 155.48 L230.3 156.38 L230.08 157.31 L229.87 158.25 L229.65 159.2 L229.44 160.18 L229.22 161.18 L229 162.2" fill="none" stroke="#0e0e40" stroke-width="2.6" stroke-linejoin="round" stroke-linecap="butt"/><path d="M265.52 162.2 L265.09 160.78 L264.66 159.4 L264.23 158.06 L263.8 156.74 L263.36 155.46 L262.92 154.22 L262.47 153.01 L262.03 151.84 L261.58 150.7 L261.13 149.6 L260.69 148.53 L260.24 147.5 L259.79 146.51 L259.34 145.55 L258.89 144.62 L258.44 143.73 L257.99 142.88 L257.54 142.06 L257.1 141.27 L256.65 140.52 L256.21 139.8 L255.77 139.11 L255.33 138.45 L254.9 137.83 L254.47 137.24 L254.04 136.68 L253.61 136.14 L253.19 135.64 L252.78 135.16 L252.37 134.72 L251.96 134.3 L251.56 133.9 L251.16 133.53 L250.77 133.18 L250.38 132.85 L250.01 132.55 L249.63 132.27 L249.27 132 L248.91 131.75 L248.56 131.52 L248.21 131.31 L247.87 131.13 L247.53 130.96 L247.19 130.82 L246.85 130.7 L246.52 130.6 L246.19 130.53 L245.86 130.47 L245.53 130.44 L245.21 130.43 L244.89 130.43 L244.57 130.46 L244.25 130.51 L243.94 130.58 L243.63 130.66 L243.32 130.76 L243.01 130.89 L242.71 131.03 L242.41 131.18 L242.11 131.36 L241.82 131.55 L241.53 131.75 L241.24 131.97 L240.95 132.21 L240.67 132.46 L240.39 132.73 L240.11 133.01 L239.84 133.3 L239.57 133.61 L239.3 133.93 L239.04 134.26 L238.78 134.6 L238.52 134.96 L238.26 135.32 L238.01 135.7 L237.76 136.08 L237.52 136.48 L237.28 136.88 L237.04 137.3 L236.81 137.72 L236.58 138.14 L236.35 138.56 L236.14 138.97 L235.93 139.39 L235.72 139.8 L235.52 140.22 L235.32 140.64 L235.13 141.06 L234.93 141.5 L234.74 141.94 L234.55 142.4 L234.36 142.87 L234.17 143.36 L233.97 143.87 L233.78 144.4 L233.58 144.95 L233.39 145.52 L233.19 146.09 L233 146.68 L232.8 147.28 L232.61 147.9 L232.42 148.52 L232.23 149.16 L232.04 149.81 L231.85 150.48 L231.66 151.16 L231.47 151.85 L231.28 152.56 L231.09 153.28 L230.9 154.02 L230.71 154.76 L230.52 155.53 L230.33 156.31 L230.14 157.1 L229.95 157.91 L229.76 158.74 L229.57 159.58 L229.38 160.44 L229.19 161.31 L229 162.2" fill="none" stroke="#4a3a9a" stroke-width="2.6" stroke-linejoin="round" stroke-linecap="butt"/><rect x="229" y="10.9" width="148.3" height="151.3" fill="none" stroke="#7a7a7a" stroke-width="1.3"/><path d="M229 162.2h2.5 M229 131.94h2.5 M229 101.68h2.5 M229 71.42h2.5 M229 41.16h2.5 M229 10.9h2.5 M229 162.2v-2.2 M266.07 162.2v-2.2 M303.15 162.2v-2.2 M340.23 162.2v-2.2 M377.3 162.2v-2.2" stroke="#666" stroke-width="1" fill="none"/><text x="223.5" y="164.5" font-size="7" fill="#333" text-anchor="end" stroke="#333" stroke-width="0.2">0</text><text x="223.5" y="134.24" font-size="7" fill="#333" text-anchor="end" stroke="#333" stroke-width="0.2">10</text><text x="223.5" y="103.98" font-size="7" fill="#333" text-anchor="end" stroke="#333" stroke-width="0.2">20</text><text x="223.5" y="73.72" font-size="7" fill="#333" text-anchor="end" stroke="#333" stroke-width="0.2">30</text><text x="223.5" y="43.46" font-size="7" fill="#333" text-anchor="end" stroke="#333" stroke-width="0.2">40</text><text x="223.5" y="13.2" font-size="7" fill="#333" text-anchor="end" stroke="#333" stroke-width="0.2">50</text><text x="229" y="172.6" font-size="7" fill="#333" text-anchor="middle" stroke="#333" stroke-width="0.2">0</text><text x="266.07" y="172.6" font-size="7" fill="#333" text-anchor="middle" stroke="#333" stroke-width="0.2">2</text><text x="303.15" y="172.6" font-size="7" fill="#333" text-anchor="middle" stroke="#333" stroke-width="0.2">4</text><text x="340.23" y="172.6" font-size="7" fill="#333" text-anchor="middle" stroke="#333" stroke-width="0.2">6</text><text x="377.3" y="172.6" font-size="7" fill="#333" text-anchor="middle" stroke="#333" stroke-width="0.2">8</text><text x="303.15" y="182.3" font-size="7" fill="#222" text-anchor="middle" stroke="#222" stroke-width="0.2">Current [A]</text><text transform="translate(211.7 86.55) rotate(-90)" font-size="6.5" fill="#222" text-anchor="middle" stroke="#222" stroke-width="0.2"><tspan font-style="italic" font-size="7">P</tspan><tspan font-size="6.1" letter-spacing="0.45">ower</tspan><tspan font-size="6.5" dx="0.9">[W]</tspan></text><text x="231.5" y="23.2" font-size="10.5" fill="#111" stroke="#111" stroke-width="0.25">Q = 2 L/min</text><text x="195.5" y="14.2" font-size="11" font-weight="bold" fill="#111" stroke="#111" stroke-width="0.2">(B)</text><rect x="321.4" y="15.6" width="51.6" height="30.2" fill="#fff" stroke="#777" stroke-width="1"/><circle cx="326.7" cy="20.63" r="1.1" fill="#6a3612"/><text x="329" y="22.78" font-size="6.1" fill="#1a1a1a" stroke="#1a1a1a" stroke-width="0.2">35oC</text><circle cx="353.4" cy="20.63" r="1.1" fill="#c8dc60"/><text x="355.7" y="22.78" font-size="6.1" fill="#1a1a1a" stroke="#1a1a1a" stroke-width="0.2">30oC</text><circle cx="326.7" cy="30.7" r="1.1" fill="#d8c890"/><text x="329" y="32.85" font-size="6.1" fill="#1a1a1a" stroke="#1a1a1a" stroke-width="0.2">25oC</text><circle cx="353.4" cy="30.7" r="1.1" fill="#8a88e0"/><text x="355.7" y="32.85" font-size="6.1" fill="#1a1a1a" stroke="#1a1a1a" stroke-width="0.2">20oC</text><circle cx="326.7" cy="40.77" r="1.1" fill="#141450"/><text x="329" y="42.92" font-size="6.1" fill="#1a1a1a" stroke="#1a1a1a" stroke-width="0.2">15oC</text><circle cx="353.4" cy="40.77" r="1.1" fill="#4a3a96"/><text x="355.7" y="42.92" font-size="6.1" fill="#1a1a1a" stroke="#1a1a1a" stroke-width="0.2">10oC</text></g>
<g><path d="M86.07 345.6 L85.16 344.1 L84.24 342.61 L83.3 341.11 L82.36 339.61 L81.41 338.12 L80.46 336.62 L79.5 335.12 L78.54 333.63 L77.58 332.13 L76.62 330.63 L75.66 329.14 L74.71 327.64 L73.76 326.14 L72.82 324.65 L71.89 323.15 L70.97 321.65 L70.06 320.16 L69.17 318.66 L68.29 317.16 L67.43 315.67 L66.58 314.17 L65.76 312.68 L64.96 311.18 L64.18 309.68 L63.43 308.19 L62.69 306.69 L61.97 305.19 L61.26 303.7 L60.56 302.2 L59.86 300.7 L59.18 299.21 L58.51 297.71 L57.84 296.21 L57.19 294.72 L56.54 293.22 L55.9 291.72 L55.28 290.23 L54.66 288.73 L54.05 287.23 L53.45 285.74 L52.86 284.24 L52.27 282.74 L51.7 281.25 L51.14 279.75 L50.58 278.25 L50.03 276.76 L49.49 275.26 L48.96 273.76 L48.44 272.27 L47.93 270.77 L47.42 269.27 L46.92 267.78 L46.43 266.28 L45.93 264.78 L45.45 263.29 L44.97 261.79 L44.5 260.29 L44.04 258.8 L43.58 257.3 L43.15 255.8 L42.72 254.31 L42.31 252.81 L41.91 251.31 L41.53 249.82 L41.17 248.32 L40.83 246.83 L40.51 245.33 L40.2 243.83 L39.9 242.34 L39.62 240.84 L39.35 239.34 L39.08 237.85 L38.82 236.35 L38.56 234.85 L38.31 233.36 L38.05 231.86 L37.8 230.36 L37.54 228.87 L37.27 227.37 L37 225.87 L37 224.74 L37.32 226.25 L37.64 227.76 L37.95 229.28 L38.25 230.79 L38.56 232.3 L38.86 233.81 L39.17 235.32 L39.48 236.83 L39.79 238.34 L40.12 239.85 L40.45 241.36 L40.79 242.87 L41.14 244.38 L41.51 245.89 L41.89 247.4 L42.3 248.91 L42.72 250.43 L43.15 251.94 L43.6 253.45 L44.06 254.96 L44.53 256.47 L45.02 257.98 L45.51 259.49 L46.02 261 L46.54 262.51 L47.06 264.02 L47.59 265.53 L48.14 267.04 L48.68 268.55 L49.24 270.06 L49.81 271.58 L50.39 273.09 L50.98 274.6 L51.58 276.11 L52.2 277.62 L52.82 279.13 L53.46 280.64 L54.11 282.15 L54.77 283.66 L55.44 285.17 L56.12 286.68 L56.81 288.19 L57.51 289.7 L58.22 291.21 L58.94 292.73 L59.67 294.24 L60.42 295.75 L61.17 297.26 L61.93 298.77 L62.7 300.28 L63.48 301.79 L64.27 303.3 L65.07 304.81 L65.88 306.32 L66.7 307.83 L67.54 309.34 L68.4 310.85 L69.29 312.36 L70.2 313.88 L71.13 315.39 L72.09 316.9 L73.05 318.41 L74.04 319.92 L75.04 321.43 L76.05 322.94 L77.08 324.45 L78.11 325.96 L79.15 327.47 L80.2 328.98 L81.25 330.49 L82.31 332 L83.36 333.51 L84.42 335.03 L85.47 336.54 L86.52 338.05 L87.56 339.56 L88.6 341.07 L89.63 342.58 L90.64 344.09 L91.65 345.6 Z" fill="#c8f2f8" stroke="none"/><path d="M101.8 345.6 L100.63 344.08 L99.45 342.56 L98.26 341.04 L97.06 339.52 L95.86 338 L94.65 336.48 L93.43 334.96 L92.22 333.44 L91 331.92 L89.78 330.4 L88.57 328.88 L87.36 327.36 L86.16 325.84 L84.96 324.32 L83.78 322.8 L82.61 321.28 L81.45 319.76 L80.3 318.24 L79.18 316.72 L78.07 315.2 L76.98 313.68 L75.91 312.16 L74.87 310.64 L73.85 309.12 L72.86 307.6 L71.89 306.08 L70.91 304.56 L69.95 303.04 L68.99 301.52 L68.05 300 L67.11 298.48 L66.18 296.96 L65.26 295.44 L64.35 293.92 L63.45 292.4 L62.56 290.88 L61.69 289.36 L60.82 287.84 L59.98 286.32 L59.14 284.8 L58.32 283.28 L57.52 281.76 L56.73 280.23 L55.95 278.71 L55.2 277.19 L54.46 275.67 L53.74 274.15 L53.03 272.63 L52.35 271.11 L51.68 269.59 L51.04 268.07 L50.41 266.55 L49.8 265.03 L49.2 263.51 L48.62 261.99 L48.05 260.47 L47.49 258.95 L46.95 257.43 L46.41 255.91 L45.89 254.39 L45.38 252.87 L44.87 251.35 L44.37 249.83 L43.88 248.31 L43.4 246.79 L42.93 245.27 L42.47 243.75 L42.03 242.23 L41.59 240.71 L41.16 239.19 L40.74 237.67 L40.32 236.15 L39.91 234.63 L39.5 233.11 L39.09 231.59 L38.67 230.07 L38.26 228.55 L37.85 227.03 L37.43 225.51 L37 223.99" fill="none" stroke="#663210" stroke-width="2.6" stroke-linejoin="round" stroke-linecap="butt"/><path d="M97.22 345.6 L96.13 344.08 L95.02 342.56 L93.9 341.04 L92.77 339.52 L91.64 338 L90.5 336.48 L89.35 334.96 L88.21 333.44 L87.06 331.92 L85.91 330.4 L84.77 328.88 L83.63 327.36 L82.5 325.84 L81.37 324.32 L80.26 322.8 L79.16 321.28 L78.07 319.76 L76.99 318.24 L75.93 316.72 L74.89 315.2 L73.87 313.68 L72.88 312.16 L71.9 310.64 L70.95 309.12 L70.03 307.6 L69.13 306.08 L68.23 304.56 L67.34 303.04 L66.46 301.52 L65.59 300 L64.73 298.48 L63.88 296.96 L63.03 295.44 L62.2 293.92 L61.38 292.4 L60.57 290.88 L59.77 289.36 L58.99 287.84 L58.21 286.32 L57.45 284.8 L56.7 283.28 L55.96 281.76 L55.24 280.23 L54.53 278.71 L53.83 277.19 L53.15 275.67 L52.48 274.15 L51.83 272.63 L51.19 271.11 L50.57 269.59 L49.96 268.07 L49.37 266.55 L48.78 265.03 L48.21 263.51 L47.65 261.99 L47.1 260.47 L46.57 258.95 L46.04 257.43 L45.53 255.91 L45.02 254.39 L44.53 252.87 L44.05 251.35 L43.58 249.83 L43.12 248.31 L42.67 246.79 L42.24 245.27 L41.83 243.75 L41.42 242.23 L41.03 240.71 L40.65 239.19 L40.28 237.67 L39.91 236.15 L39.55 234.63 L39.19 233.11 L38.83 231.59 L38.47 230.07 L38.11 228.55 L37.74 227.03 L37.37 225.51 L37 223.99" fill="none" stroke="#d6ca22" stroke-width="2.6" stroke-linejoin="round" stroke-linecap="butt"/><path d="M91.65 345.6 L90.64 344.09 L89.63 342.58 L88.6 341.07 L87.56 339.56 L86.52 338.05 L85.47 336.54 L84.42 335.03 L83.36 333.51 L82.31 332 L81.25 330.49 L80.2 328.98 L79.15 327.47 L78.11 325.96 L77.08 324.45 L76.05 322.94 L75.04 321.43 L74.04 319.92 L73.05 318.41 L72.09 316.9 L71.13 315.39 L70.2 313.88 L69.29 312.36 L68.4 310.85 L67.54 309.34 L66.7 307.83 L65.88 306.32 L65.07 304.81 L64.27 303.3 L63.48 301.79 L62.7 300.28 L61.93 298.77 L61.17 297.26 L60.42 295.75 L59.67 294.24 L58.94 292.73 L58.22 291.21 L57.51 289.7 L56.81 288.19 L56.12 286.68 L55.44 285.17 L54.77 283.66 L54.11 282.15 L53.46 280.64 L52.82 279.13 L52.2 277.62 L51.58 276.11 L50.98 274.6 L50.39 273.09 L49.81 271.58 L49.24 270.06 L48.68 268.55 L48.14 267.04 L47.59 265.53 L47.06 264.02 L46.54 262.51 L46.02 261 L45.51 259.49 L45.02 257.98 L44.53 256.47 L44.06 254.96 L43.6 253.45 L43.15 251.94 L42.72 250.43 L42.3 248.91 L41.89 247.4 L41.51 245.89 L41.14 244.38 L40.79 242.87 L40.45 241.36 L40.12 239.85 L39.79 238.34 L39.48 236.83 L39.17 235.32 L38.86 233.81 L38.56 232.3 L38.25 230.79 L37.95 229.28 L37.64 227.76 L37.32 226.25 L37 224.74" fill="none" stroke="#a4c24a" stroke-width="2.6" stroke-linejoin="round" stroke-linecap="butt"/><path d="M86.07 345.6 L85.16 344.1 L84.24 342.61 L83.3 341.11 L82.36 339.61 L81.41 338.12 L80.46 336.62 L79.5 335.12 L78.54 333.63 L77.58 332.13 L76.62 330.63 L75.66 329.14 L74.71 327.64 L73.76 326.14 L72.82 324.65 L71.89 323.15 L70.97 321.65 L70.06 320.16 L69.17 318.66 L68.29 317.16 L67.43 315.67 L66.58 314.17 L65.76 312.68 L64.96 311.18 L64.18 309.68 L63.43 308.19 L62.69 306.69 L61.97 305.19 L61.26 303.7 L60.56 302.2 L59.86 300.7 L59.18 299.21 L58.51 297.71 L57.84 296.21 L57.19 294.72 L56.54 293.22 L55.9 291.72 L55.28 290.23 L54.66 288.73 L54.05 287.23 L53.45 285.74 L52.86 284.24 L52.27 282.74 L51.7 281.25 L51.14 279.75 L50.58 278.25 L50.03 276.76 L49.49 275.26 L48.96 273.76 L48.44 272.27 L47.93 270.77 L47.42 269.27 L46.92 267.78 L46.43 266.28 L45.93 264.78 L45.45 263.29 L44.97 261.79 L44.5 260.29 L44.04 258.8 L43.58 257.3 L43.15 255.8 L42.72 254.31 L42.31 252.81 L41.91 251.31 L41.53 249.82 L41.17 248.32 L40.83 246.83 L40.51 245.33 L40.2 243.83 L39.9 242.34 L39.62 240.84 L39.35 239.34 L39.08 237.85 L38.82 236.35 L38.56 234.85 L38.31 233.36 L38.05 231.86 L37.8 230.36 L37.54 228.87 L37.27 227.37 L37 225.87" fill="none" stroke="#6a7ee0" stroke-width="2.6" stroke-linejoin="round" stroke-linecap="butt"/><path d="M80.12 345.6 L79.31 344.11 L78.49 342.63 L77.67 341.14 L76.83 339.65 L75.98 338.16 L75.13 336.68 L74.28 335.19 L73.43 333.7 L72.57 332.22 L71.71 330.73 L70.86 329.24 L70.01 327.75 L69.17 326.27 L68.33 324.78 L67.5 323.29 L66.69 321.81 L65.88 320.32 L65.08 318.83 L64.3 317.34 L63.54 315.86 L62.79 314.37 L62.06 312.88 L61.36 311.39 L60.67 309.91 L60.01 308.42 L59.37 306.93 L58.74 305.45 L58.12 303.96 L57.5 302.47 L56.9 300.98 L56.31 299.5 L55.73 298.01 L55.15 296.52 L54.59 295.04 L54.03 293.55 L53.48 292.06 L52.94 290.57 L52.4 289.09 L51.88 287.6 L51.36 286.11 L50.85 284.63 L50.35 283.14 L49.85 281.65 L49.36 280.16 L48.88 278.68 L48.4 277.19 L47.93 275.7 L47.46 274.22 L47 272.73 L46.55 271.24 L46.1 269.75 L45.65 268.27 L45.2 266.78 L44.76 265.29 L44.32 263.81 L43.89 262.32 L43.46 260.83 L43.04 259.34 L42.63 257.86 L42.23 256.37 L41.84 254.88 L41.47 253.4 L41.12 251.91 L40.78 250.42 L40.46 248.93 L40.17 247.45 L39.89 245.96 L39.63 244.47 L39.38 242.98 L39.15 241.5 L38.92 240.01 L38.7 238.52 L38.49 237.04 L38.28 235.55 L38.07 234.06 L37.86 232.57 L37.65 231.09 L37.44 229.6 L37.22 228.11 L37 226.63" fill="none" stroke="#0e0e40" stroke-width="2.6" stroke-linejoin="round" stroke-linecap="butt"/><path d="M73.25 345.6 L72.56 344.12 L71.86 342.64 L71.16 341.17 L70.45 339.69 L69.73 338.21 L69 336.73 L68.28 335.26 L67.55 333.78 L66.82 332.3 L66.09 330.82 L65.37 329.34 L64.64 327.87 L63.92 326.39 L63.21 324.91 L62.51 323.43 L61.81 321.96 L61.13 320.48 L60.45 319 L59.79 317.52 L59.14 316.04 L58.51 314.57 L57.89 313.09 L57.29 311.61 L56.72 310.13 L56.16 308.66 L55.62 307.18 L55.09 305.7 L54.58 304.22 L54.07 302.74 L53.57 301.27 L53.08 299.79 L52.59 298.31 L52.12 296.83 L51.65 295.36 L51.19 293.88 L50.74 292.4 L50.29 290.92 L49.85 289.45 L49.42 287.97 L48.99 286.49 L48.57 285.01 L48.15 283.53 L47.74 282.06 L47.34 280.58 L46.93 279.1 L46.53 277.62 L46.14 276.15 L45.75 274.67 L45.36 273.19 L44.98 271.71 L44.6 270.23 L44.21 268.76 L43.83 267.28 L43.45 265.8 L43.07 264.32 L42.69 262.85 L42.32 261.37 L41.95 259.89 L41.6 258.41 L41.25 256.93 L40.92 255.46 L40.6 253.98 L40.3 252.5 L40.01 251.02 L39.75 249.55 L39.5 248.07 L39.28 246.59 L39.06 245.11 L38.86 243.63 L38.67 242.16 L38.49 240.68 L38.32 239.2 L38.15 237.72 L37.99 236.25 L37.83 234.77 L37.67 233.29 L37.51 231.81 L37.34 230.33 L37.18 228.86 L37 227.38" fill="none" stroke="#4a3a9a" stroke-width="2.6" stroke-linejoin="round" stroke-linecap="butt"/><rect x="37" y="195" width="148.7" height="150.6" fill="none" stroke="#7a7a7a" stroke-width="1.3"/><path d="M37 345.6h2.5 M37 307.95h2.5 M37 270.3h2.5 M37 232.65h2.5 M37 195h2.5 M37 345.6v-2.2 M74.17 345.6v-2.2 M111.35 345.6v-2.2 M148.52 345.6v-2.2 M185.7 345.6v-2.2" stroke="#666" stroke-width="1" fill="none"/><text x="31.5" y="347.9" font-size="7" fill="#333" text-anchor="end" stroke="#333" stroke-width="0.2">0</text><text x="31.5" y="310.25" font-size="7" fill="#333" text-anchor="end" stroke="#333" stroke-width="0.2">10</text><text x="31.5" y="272.6" font-size="7" fill="#333" text-anchor="end" stroke="#333" stroke-width="0.2">20</text><text x="31.5" y="234.95" font-size="7" fill="#333" text-anchor="end" stroke="#333" stroke-width="0.2">30</text><text x="31.5" y="197.3" font-size="7" fill="#333" text-anchor="end" stroke="#333" stroke-width="0.2">40</text><text x="37" y="356" font-size="7" fill="#333" text-anchor="middle" stroke="#333" stroke-width="0.2">0</text><text x="74.17" y="356" font-size="7" fill="#333" text-anchor="middle" stroke="#333" stroke-width="0.2">2</text><text x="111.35" y="356" font-size="7" fill="#333" text-anchor="middle" stroke="#333" stroke-width="0.2">4</text><text x="148.52" y="356" font-size="7" fill="#333" text-anchor="middle" stroke="#333" stroke-width="0.2">6</text><text x="185.7" y="356" font-size="7" fill="#333" text-anchor="middle" stroke="#333" stroke-width="0.2">8</text><text x="111.35" y="365.7" font-size="7" fill="#222" text-anchor="middle" stroke="#222" stroke-width="0.2">Current [A]</text><text transform="translate(20.2 270.3) rotate(-90)" font-size="6.9" fill="#222" text-anchor="middle" stroke="#222" stroke-width="0.2">Voltage [V]</text><text x="43.6" y="206.8" font-size="10.5" fill="#111" stroke="#111" stroke-width="0.25">Q = 4 L/min</text><text x="5.6" y="197.6" font-size="11" font-weight="bold" fill="#111" stroke="#111" stroke-width="0.2"><tspan fill="#a01838" stroke="#a01838">(</tspan>C)</text><rect x="127.8" y="199.4" width="53" height="32.4" fill="#fff" stroke="#777" stroke-width="1"/><circle cx="133.8" cy="204.8" r="1.1" fill="#6a3612"/><text x="136.1" y="206.95" font-size="6.1" fill="#1a1a1a" stroke="#1a1a1a" stroke-width="0.2">35oC</text><circle cx="160.5" cy="204.8" r="1.1" fill="#c8dc60"/><text x="162.8" y="206.95" font-size="6.1" fill="#1a1a1a" stroke="#1a1a1a" stroke-width="0.2">30oC</text><circle cx="133.8" cy="215.6" r="1.1" fill="#d8c890"/><text x="136.1" y="217.75" font-size="6.1" fill="#1a1a1a" stroke="#1a1a1a" stroke-width="0.2">25oC</text><circle cx="160.5" cy="215.6" r="1.1" fill="#8a88e0"/><text x="162.8" y="217.75" font-size="6.1" fill="#1a1a1a" stroke="#1a1a1a" stroke-width="0.2">20oC</text><circle cx="133.8" cy="226.4" r="1.1" fill="#141450"/><text x="136.1" y="228.55" font-size="6.1" fill="#1a1a1a" stroke="#1a1a1a" stroke-width="0.2">15oC</text><circle cx="160.5" cy="226.4" r="1.1" fill="#4a3a96"/><text x="162.8" y="228.55" font-size="6.1" fill="#1a1a1a" stroke="#1a1a1a" stroke-width="0.2">10oC</text></g>
<g><path d="M279.1 345.2 L278.5 343.1 L277.89 341.05 L277.27 339.06 L276.65 337.11 L276.02 335.23 L275.39 333.4 L274.76 331.62 L274.13 329.9 L273.49 328.24 L272.85 326.63 L272.21 325.08 L271.57 323.59 L270.93 322.15 L270.29 320.76 L269.65 319.43 L269.01 318.16 L268.37 316.94 L267.73 315.77 L267.1 314.66 L266.47 313.59 L265.85 312.58 L265.22 311.62 L264.61 310.71 L263.99 309.85 L263.38 309.04 L262.78 308.27 L262.19 307.54 L261.6 306.86 L261.02 306.22 L260.45 305.62 L259.88 305.06 L259.32 304.54 L258.78 304.05 L258.24 303.59 L257.71 303.17 L257.2 302.77 L256.69 302.41 L256.2 302.06 L255.71 301.75 L255.23 301.47 L254.75 301.23 L254.28 301.02 L253.81 300.84 L253.34 300.7 L252.88 300.59 L252.42 300.51 L251.97 300.46 L251.52 300.44 L251.08 300.45 L250.64 300.49 L250.2 300.56 L249.77 300.66 L249.34 300.79 L248.92 300.94 L248.5 301.12 L248.08 301.33 L247.67 301.56 L247.26 301.82 L246.86 302.1 L246.46 302.41 L246.06 302.74 L245.67 303.1 L245.29 303.47 L244.9 303.88 L244.52 304.3 L244.15 304.75 L243.77 305.21 L243.41 305.7 L243.04 306.21 L242.68 306.74 L242.32 307.28 L241.97 307.85 L241.62 308.44 L241.28 309.04 L240.94 309.66 L240.6 310.3 L240.26 310.96 L239.93 311.64 L239.6 312.35 L239.27 313.08 L238.94 313.83 L238.61 314.59 L238.29 315.38 L237.97 316.18 L237.66 317 L237.35 317.82 L237.04 318.66 L236.74 319.51 L236.44 320.36 L236.15 321.22 L235.86 322.08 L235.58 322.94 L235.31 323.8 L235.04 324.65 L234.79 325.5 L234.53 326.34 L234.29 327.17 L234.06 327.98 L233.83 328.77 L233.61 329.54 L233.4 330.3 L233.2 331.05 L233 331.8 L232.81 332.53 L232.62 333.27 L232.44 334 L232.26 334.73 L232.08 335.46 L231.91 336.2 L231.73 336.94 L231.56 337.68 L231.39 338.44 L231.22 339.22 L231.05 340 L230.88 340.81 L230.71 341.63 L230.54 342.48 L230.36 343.36 L230.18 344.26 L230 345.2 L230 345.2 L230.22 344.08 L230.43 343 L230.64 341.95 L230.85 340.92 L231.05 339.93 L231.26 338.96 L231.46 338.01 L231.66 337.08 L231.87 336.16 L232.07 335.26 L232.28 334.37 L232.49 333.49 L232.7 332.62 L232.91 331.75 L233.13 330.88 L233.35 330.02 L233.57 329.16 L233.8 328.29 L234.04 327.42 L234.28 326.55 L234.53 325.66 L234.78 324.77 L235.05 323.86 L235.32 322.94 L235.6 322.02 L235.89 321.09 L236.18 320.16 L236.48 319.23 L236.78 318.31 L237.09 317.39 L237.41 316.47 L237.73 315.57 L238.05 314.67 L238.38 313.78 L238.72 312.91 L239.06 312.04 L239.4 311.19 L239.75 310.36 L240.1 309.54 L240.46 308.74 L240.82 307.95 L241.18 307.19 L241.55 306.45 L241.92 305.73 L242.29 305.02 L242.67 304.34 L243.05 303.67 L243.44 303.01 L243.84 302.38 L244.24 301.76 L244.64 301.17 L245.05 300.59 L245.47 300.03 L245.89 299.5 L246.31 298.99 L246.74 298.5 L247.18 298.03 L247.62 297.6 L248.06 297.18 L248.51 296.79 L248.97 296.43 L249.42 296.1 L249.89 295.79 L250.36 295.52 L250.83 295.27 L251.31 295.05 L251.79 294.87 L252.28 294.72 L252.77 294.59 L253.26 294.51 L253.76 294.45 L254.27 294.43 L254.78 294.45 L255.29 294.5 L255.81 294.59 L256.33 294.71 L256.86 294.87 L257.39 295.07 L257.92 295.31 L258.46 295.59 L259 295.91 L259.55 296.26 L260.1 296.66 L260.66 297.09 L261.24 297.55 L261.83 298.04 L262.42 298.57 L263.03 299.13 L263.65 299.74 L264.27 300.39 L264.91 301.08 L265.55 301.82 L266.2 302.6 L266.86 303.43 L267.52 304.31 L268.2 305.25 L268.87 306.23 L269.55 307.27 L270.24 308.37 L270.93 309.52 L271.63 310.73 L272.33 312 L273.03 313.32 L273.73 314.71 L274.43 316.15 L275.14 317.66 L275.85 319.22 L276.55 320.85 L277.26 322.54 L277.96 324.3 L278.67 326.11 L279.37 327.99 L280.07 329.92 L280.77 331.92 L281.46 333.99 L282.16 336.11 L282.84 338.29 L283.52 340.53 L284.2 342.84 L284.87 345.2 Z" fill="#c8f2f8" stroke="none"/><path d="M294.73 345.2 L293.95 342.47 L293.17 339.8 L292.39 337.2 L291.6 334.67 L290.8 332.21 L290 329.82 L289.2 327.49 L288.39 325.24 L287.59 323.05 L286.78 320.94 L285.97 318.89 L285.16 316.92 L284.35 315.01 L283.54 313.17 L282.73 311.41 L281.92 309.71 L281.11 308.07 L280.31 306.51 L279.5 305.01 L278.71 303.58 L277.91 302.21 L277.12 300.9 L276.34 299.66 L275.56 298.48 L274.78 297.36 L274.02 296.3 L273.26 295.29 L272.5 294.35 L271.76 293.45 L271.02 292.61 L270.3 291.82 L269.58 291.08 L268.87 290.39 L268.18 289.74 L267.49 289.13 L266.82 288.57 L266.15 288.04 L265.5 287.56 L264.85 287.12 L264.2 286.74 L263.56 286.41 L262.92 286.13 L262.28 285.89 L261.64 285.71 L261.01 285.57 L260.39 285.47 L259.76 285.42 L259.15 285.42 L258.53 285.46 L257.92 285.54 L257.32 285.67 L256.72 285.83 L256.12 286.04 L255.53 286.28 L254.95 286.56 L254.37 286.88 L253.8 287.23 L253.23 287.62 L252.67 288.04 L252.12 288.49 L251.57 288.98 L251.03 289.49 L250.49 290.03 L249.97 290.6 L249.45 291.19 L248.93 291.81 L248.43 292.45 L247.93 293.11 L247.44 293.79 L246.96 294.48 L246.48 295.2 L246.02 295.93 L245.56 296.67 L245.11 297.43 L244.67 298.19 L244.24 298.97 L243.81 299.76 L243.39 300.56 L242.98 301.37 L242.58 302.19 L242.19 303.03 L241.8 303.87 L241.41 304.73 L241.03 305.59 L240.66 306.47 L240.3 307.36 L239.93 308.27 L239.58 309.18 L239.23 310.11 L238.88 311.05 L238.54 312.01 L238.2 312.97 L237.86 313.96 L237.53 314.96 L237.2 315.97 L236.87 317 L236.55 318.04 L236.24 319.09 L235.92 320.14 L235.62 321.19 L235.32 322.25 L235.02 323.31 L234.73 324.38 L234.44 325.46 L234.16 326.55 L233.88 327.65 L233.6 328.76 L233.32 329.89 L233.04 331.03 L232.77 332.19 L232.49 333.37 L232.22 334.58 L231.95 335.8 L231.67 337.05 L231.4 338.33 L231.12 339.63 L230.85 340.97 L230.57 342.35 L230.28 343.75 L230 345.2" fill="none" stroke="#663210" stroke-width="2.6" stroke-linejoin="round" stroke-linecap="butt"/><path d="M290.08 345.2 L289.35 342.61 L288.62 340.08 L287.88 337.62 L287.14 335.22 L286.39 332.89 L285.64 330.63 L284.89 328.43 L284.13 326.3 L283.37 324.23 L282.61 322.24 L281.85 320.31 L281.08 318.44 L280.32 316.65 L279.56 314.92 L278.79 313.25 L278.03 311.65 L277.27 310.12 L276.52 308.65 L275.76 307.25 L275.01 305.9 L274.27 304.62 L273.52 303.41 L272.79 302.25 L272.05 301.15 L271.33 300.1 L270.61 299.12 L269.89 298.18 L269.19 297.3 L268.49 296.48 L267.8 295.7 L267.12 294.97 L266.45 294.29 L265.79 293.65 L265.14 293.05 L264.5 292.49 L263.87 291.97 L263.26 291.49 L262.65 291.04 L262.05 290.64 L261.45 290.29 L260.86 289.98 L260.27 289.71 L259.68 289.49 L259.1 289.31 L258.52 289.18 L257.95 289.09 L257.38 289.04 L256.81 289.03 L256.25 289.06 L255.69 289.12 L255.14 289.23 L254.59 289.38 L254.05 289.56 L253.51 289.77 L252.98 290.03 L252.45 290.31 L251.93 290.63 L251.42 290.98 L250.9 291.36 L250.4 291.78 L249.9 292.22 L249.4 292.69 L248.91 293.19 L248.43 293.71 L247.96 294.26 L247.48 294.83 L247.02 295.43 L246.56 296.04 L246.11 296.68 L245.66 297.34 L245.22 298.02 L244.79 298.71 L244.37 299.42 L243.95 300.15 L243.54 300.89 L243.13 301.64 L242.73 302.41 L242.34 303.2 L241.95 304 L241.56 304.82 L241.19 305.65 L240.81 306.5 L240.44 307.37 L240.08 308.24 L239.72 309.13 L239.37 310.04 L239.02 310.95 L238.68 311.88 L238.34 312.81 L238 313.76 L237.67 314.72 L237.35 315.68 L237.03 316.66 L236.72 317.64 L236.41 318.63 L236.1 319.63 L235.8 320.63 L235.51 321.62 L235.23 322.61 L234.95 323.59 L234.68 324.57 L234.41 325.55 L234.15 326.53 L233.9 327.52 L233.64 328.51 L233.39 329.5 L233.15 330.51 L232.9 331.52 L232.66 332.55 L232.42 333.58 L232.18 334.64 L231.94 335.71 L231.7 336.8 L231.46 337.91 L231.22 339.05 L230.98 340.22 L230.74 341.41 L230.5 342.64 L230.25 343.9 L230 345.2" fill="none" stroke="#d6ca22" stroke-width="2.6" stroke-linejoin="round" stroke-linecap="butt"/><path d="M284.87 345.2 L284.2 342.84 L283.52 340.53 L282.84 338.29 L282.16 336.11 L281.46 333.99 L280.77 331.92 L280.07 329.92 L279.37 327.99 L278.67 326.11 L277.96 324.3 L277.26 322.54 L276.55 320.85 L275.85 319.22 L275.14 317.66 L274.43 316.15 L273.73 314.71 L273.03 313.32 L272.33 312 L271.63 310.73 L270.93 309.52 L270.24 308.37 L269.55 307.27 L268.87 306.23 L268.2 305.25 L267.52 304.31 L266.86 303.43 L266.2 302.6 L265.55 301.82 L264.91 301.08 L264.27 300.39 L263.65 299.74 L263.03 299.13 L262.42 298.57 L261.83 298.04 L261.24 297.55 L260.66 297.09 L260.1 296.66 L259.55 296.26 L259 295.91 L258.46 295.59 L257.92 295.31 L257.39 295.07 L256.86 294.87 L256.33 294.71 L255.81 294.59 L255.29 294.5 L254.78 294.45 L254.27 294.43 L253.76 294.45 L253.26 294.51 L252.77 294.59 L252.28 294.72 L251.79 294.87 L251.31 295.05 L250.83 295.27 L250.36 295.52 L249.89 295.79 L249.42 296.1 L248.97 296.43 L248.51 296.79 L248.06 297.18 L247.62 297.6 L247.18 298.03 L246.74 298.5 L246.31 298.99 L245.89 299.5 L245.47 300.03 L245.05 300.59 L244.64 301.17 L244.24 301.76 L243.84 302.38 L243.44 303.01 L243.05 303.67 L242.67 304.34 L242.29 305.02 L241.92 305.73 L241.55 306.45 L241.18 307.19 L240.82 307.95 L240.46 308.74 L240.1 309.54 L239.75 310.36 L239.4 311.19 L239.06 312.04 L238.72 312.91 L238.38 313.78 L238.05 314.67 L237.73 315.57 L237.41 316.47 L237.09 317.39 L236.78 318.31 L236.48 319.23 L236.18 320.16 L235.89 321.09 L235.6 322.02 L235.32 322.94 L235.05 323.86 L234.78 324.77 L234.53 325.66 L234.28 326.55 L234.04 327.42 L233.8 328.29 L233.57 329.16 L233.35 330.02 L233.13 330.88 L232.91 331.75 L232.7 332.62 L232.49 333.49 L232.28 334.37 L232.07 335.26 L231.87 336.16 L231.66 337.08 L231.46 338.01 L231.26 338.96 L231.05 339.93 L230.85 340.92 L230.64 341.95 L230.43 343 L230.22 344.08 L230 345.2" fill="none" stroke="#a4c24a" stroke-width="2.6" stroke-linejoin="round" stroke-linecap="butt"/><path d="M279.1 345.2 L278.5 343.1 L277.89 341.05 L277.27 339.06 L276.65 337.11 L276.02 335.23 L275.39 333.4 L274.76 331.62 L274.13 329.9 L273.49 328.24 L272.85 326.63 L272.21 325.08 L271.57 323.59 L270.93 322.15 L270.29 320.76 L269.65 319.43 L269.01 318.16 L268.37 316.94 L267.73 315.77 L267.1 314.66 L266.47 313.59 L265.85 312.58 L265.22 311.62 L264.61 310.71 L263.99 309.85 L263.38 309.04 L262.78 308.27 L262.19 307.54 L261.6 306.86 L261.02 306.22 L260.45 305.62 L259.88 305.06 L259.32 304.54 L258.78 304.05 L258.24 303.59 L257.71 303.17 L257.2 302.77 L256.69 302.41 L256.2 302.06 L255.71 301.75 L255.23 301.47 L254.75 301.23 L254.28 301.02 L253.81 300.84 L253.34 300.7 L252.88 300.59 L252.42 300.51 L251.97 300.46 L251.52 300.44 L251.08 300.45 L250.64 300.49 L250.2 300.56 L249.77 300.66 L249.34 300.79 L248.92 300.94 L248.5 301.12 L248.08 301.33 L247.67 301.56 L247.26 301.82 L246.86 302.1 L246.46 302.41 L246.06 302.74 L245.67 303.1 L245.29 303.47 L244.9 303.88 L244.52 304.3 L244.15 304.75 L243.77 305.21 L243.41 305.7 L243.04 306.21 L242.68 306.74 L242.32 307.28 L241.97 307.85 L241.62 308.44 L241.28 309.04 L240.94 309.66 L240.6 310.3 L240.26 310.96 L239.93 311.64 L239.6 312.35 L239.27 313.08 L238.94 313.83 L238.61 314.59 L238.29 315.38 L237.97 316.18 L237.66 317 L237.35 317.82 L237.04 318.66 L236.74 319.51 L236.44 320.36 L236.15 321.22 L235.86 322.08 L235.58 322.94 L235.31 323.8 L235.04 324.65 L234.79 325.5 L234.53 326.34 L234.29 327.17 L234.06 327.98 L233.83 328.77 L233.61 329.54 L233.4 330.3 L233.2 331.05 L233 331.8 L232.81 332.53 L232.62 333.27 L232.44 334 L232.26 334.73 L232.08 335.46 L231.91 336.2 L231.73 336.94 L231.56 337.68 L231.39 338.44 L231.22 339.22 L231.05 340 L230.88 340.81 L230.71 341.63 L230.54 342.48 L230.36 343.36 L230.18 344.26 L230 345.2" fill="none" stroke="#6a7ee0" stroke-width="2.6" stroke-linejoin="round" stroke-linecap="butt"/><path d="M273.34 345.2 L272.8 343.35 L272.25 341.55 L271.7 339.79 L271.15 338.08 L270.59 336.43 L270.03 334.82 L269.46 333.26 L268.89 331.75 L268.32 330.29 L267.75 328.88 L267.18 327.52 L266.61 326.21 L266.03 324.95 L265.46 323.74 L264.89 322.58 L264.32 321.46 L263.75 320.4 L263.18 319.38 L262.61 318.41 L262.05 317.49 L261.49 316.61 L260.93 315.78 L260.38 314.99 L259.83 314.25 L259.29 313.54 L258.75 312.88 L258.22 312.26 L257.7 311.67 L257.18 311.12 L256.67 310.61 L256.17 310.13 L255.68 309.68 L255.19 309.26 L254.71 308.88 L254.25 308.51 L253.79 308.18 L253.34 307.86 L252.91 307.57 L252.48 307.3 L252.05 307.06 L251.64 306.85 L251.22 306.67 L250.81 306.52 L250.4 306.39 L250 306.29 L249.6 306.22 L249.21 306.17 L248.82 306.15 L248.43 306.15 L248.05 306.18 L247.67 306.23 L247.3 306.31 L246.93 306.41 L246.56 306.54 L246.2 306.69 L245.84 306.86 L245.48 307.05 L245.13 307.27 L244.78 307.51 L244.43 307.76 L244.09 308.05 L243.75 308.35 L243.41 308.67 L243.08 309.01 L242.75 309.38 L242.42 309.76 L242.1 310.16 L241.77 310.59 L241.46 311.03 L241.14 311.49 L240.82 311.97 L240.51 312.48 L240.21 312.99 L239.9 313.53 L239.6 314.09 L239.29 314.67 L238.99 315.26 L238.69 315.88 L238.4 316.53 L238.1 317.2 L237.8 317.89 L237.5 318.6 L237.21 319.33 L236.92 320.07 L236.63 320.83 L236.35 321.6 L236.07 322.38 L235.79 323.17 L235.52 323.96 L235.25 324.75 L235 325.55 L234.74 326.34 L234.5 327.13 L234.26 327.91 L234.02 328.67 L233.8 329.43 L233.59 330.16 L233.38 330.88 L233.19 331.57 L233 332.23 L232.82 332.89 L232.65 333.53 L232.48 334.16 L232.32 334.79 L232.16 335.4 L232.01 336.01 L231.86 336.62 L231.71 337.22 L231.56 337.83 L231.42 338.43 L231.28 339.05 L231.14 339.67 L231 340.3 L230.86 340.94 L230.73 341.59 L230.58 342.27 L230.44 342.96 L230.3 343.68 L230.15 344.43 L230 345.2" fill="none" stroke="#0e0e40" stroke-width="2.6" stroke-linejoin="round" stroke-linecap="butt"/><path d="M266.64 345.2 L266.18 343.62 L265.71 342.08 L265.24 340.58 L264.77 339.13 L264.29 337.71 L263.81 336.34 L263.33 335.01 L262.84 333.73 L262.35 332.49 L261.86 331.29 L261.37 330.13 L260.88 329.02 L260.39 327.95 L259.9 326.92 L259.41 325.94 L258.92 325 L258.43 324.1 L257.94 323.24 L257.46 322.42 L256.98 321.64 L256.5 320.9 L256.02 320.2 L255.55 319.54 L255.08 318.91 L254.62 318.33 L254.16 317.77 L253.71 317.25 L253.26 316.76 L252.82 316.31 L252.38 315.88 L251.95 315.48 L251.53 315.11 L251.12 314.77 L250.72 314.45 L250.32 314.15 L249.93 313.87 L249.55 313.61 L249.19 313.37 L248.82 313.14 L248.47 312.94 L248.12 312.77 L247.77 312.61 L247.43 312.48 L247.09 312.37 L246.75 312.29 L246.42 312.22 L246.09 312.18 L245.77 312.16 L245.44 312.16 L245.13 312.17 L244.81 312.21 L244.5 312.27 L244.19 312.35 L243.89 312.45 L243.59 312.57 L243.29 312.7 L242.99 312.86 L242.7 313.03 L242.41 313.23 L242.12 313.44 L241.84 313.67 L241.56 313.92 L241.28 314.18 L241 314.47 L240.72 314.77 L240.45 315.09 L240.18 315.43 L239.91 315.79 L239.64 316.16 L239.37 316.55 L239.11 316.96 L238.85 317.39 L238.58 317.84 L238.32 318.3 L238.07 318.79 L237.81 319.29 L237.55 319.81 L237.29 320.36 L237.04 320.93 L236.78 321.53 L236.52 322.15 L236.26 322.78 L236.01 323.44 L235.75 324.11 L235.5 324.79 L235.25 325.48 L235.01 326.18 L234.77 326.89 L234.53 327.6 L234.3 328.31 L234.07 329.02 L233.85 329.73 L233.64 330.43 L233.43 331.11 L233.23 331.78 L233.04 332.44 L232.86 333.08 L232.69 333.69 L232.53 334.27 L232.37 334.83 L232.23 335.38 L232.09 335.91 L231.95 336.43 L231.82 336.94 L231.69 337.44 L231.57 337.93 L231.45 338.42 L231.34 338.9 L231.22 339.38 L231.11 339.86 L231 340.34 L230.89 340.83 L230.79 341.32 L230.68 341.83 L230.57 342.35 L230.46 342.88 L230.35 343.42 L230.23 343.99 L230.12 344.58 L230 345.2" fill="none" stroke="#4a3a9a" stroke-width="2.6" stroke-linejoin="round" stroke-linecap="butt"/><rect x="230" y="195" width="148.8" height="150.2" fill="none" stroke="#7a7a7a" stroke-width="1.3"/><path d="M230 345.2h2.5 M230 315.16h2.5 M230 285.12h2.5 M230 255.08h2.5 M230 225.04h2.5 M230 195h2.5 M230 345.2v-2.2 M267.2 345.2v-2.2 M304.4 345.2v-2.2 M341.6 345.2v-2.2 M378.8 345.2v-2.2" stroke="#666" stroke-width="1" fill="none"/><text x="224.5" y="347.5" font-size="7" fill="#333" text-anchor="end" stroke="#333" stroke-width="0.2">0</text><text x="224.5" y="317.46" font-size="7" fill="#333" text-anchor="end" stroke="#333" stroke-width="0.2">10</text><text x="224.5" y="287.42" font-size="7" fill="#333" text-anchor="end" stroke="#333" stroke-width="0.2">20</text><text x="224.5" y="257.38" font-size="7" fill="#333" text-anchor="end" stroke="#333" stroke-width="0.2">30</text><text x="224.5" y="227.34" font-size="7" fill="#333" text-anchor="end" stroke="#333" stroke-width="0.2">40</text><text x="224.5" y="197.3" font-size="7" fill="#333" text-anchor="end" stroke="#333" stroke-width="0.2">50</text><text x="230" y="355.6" font-size="7" fill="#333" text-anchor="middle" stroke="#333" stroke-width="0.2">0</text><text x="267.2" y="355.6" font-size="7" fill="#333" text-anchor="middle" stroke="#333" stroke-width="0.2">2</text><text x="304.4" y="355.6" font-size="7" fill="#333" text-anchor="middle" stroke="#333" stroke-width="0.2">4</text><text x="341.6" y="355.6" font-size="7" fill="#333" text-anchor="middle" stroke="#333" stroke-width="0.2">6</text><text x="378.8" y="355.6" font-size="7" fill="#333" text-anchor="middle" stroke="#333" stroke-width="0.2">8</text><text x="304.4" y="365.3" font-size="7" fill="#222" text-anchor="middle" stroke="#222" stroke-width="0.2">Current [A]</text><text transform="translate(212.7 270.1) rotate(-90)" font-size="6.5" fill="#222" text-anchor="middle" stroke="#222" stroke-width="0.2"><tspan font-style="italic" font-size="7">P</tspan><tspan font-size="6.1" letter-spacing="0.45">ower</tspan><tspan font-size="6.5" dx="0.9">[W]</tspan></text><text x="231.5" y="206.2" font-size="10.5" fill="#111" stroke="#111" stroke-width="0.25">Q = 4 L/min</text><text x="195.5" y="197.6" font-size="11" font-weight="bold" fill="#111" stroke="#111" stroke-width="0.2">(D)</text><rect x="321.7" y="200" width="54.1" height="33.3" fill="#fff" stroke="#777" stroke-width="1"/><circle cx="327.7" cy="205.55" r="1.1" fill="#6a3612"/><text x="330" y="207.7" font-size="6.1" fill="#1a1a1a" stroke="#1a1a1a" stroke-width="0.2">35oC</text><circle cx="354.4" cy="205.55" r="1.1" fill="#c8dc60"/><text x="356.7" y="207.7" font-size="6.1" fill="#1a1a1a" stroke="#1a1a1a" stroke-width="0.2">30oC</text><circle cx="327.7" cy="216.65" r="1.1" fill="#d8c890"/><text x="330" y="218.8" font-size="6.1" fill="#1a1a1a" stroke="#1a1a1a" stroke-width="0.2">25oC</text><circle cx="354.4" cy="216.65" r="1.1" fill="#8a88e0"/><text x="356.7" y="218.8" font-size="6.1" fill="#1a1a1a" stroke="#1a1a1a" stroke-width="0.2">20oC</text><circle cx="327.7" cy="227.75" r="1.1" fill="#141450"/><text x="330" y="229.9" font-size="6.1" fill="#1a1a1a" stroke="#1a1a1a" stroke-width="0.2">15oC</text><circle cx="354.4" cy="227.75" r="1.1" fill="#4a3a96"/><text x="356.7" y="229.9" font-size="6.1" fill="#1a1a1a" stroke="#1a1a1a" stroke-width="0.2">10oC</text></g>
<g><path d="M86.69 526 L85.81 524.47 L84.93 522.94 L84.03 521.41 L83.13 519.88 L82.23 518.34 L81.33 516.81 L80.42 515.28 L79.51 513.75 L78.6 512.22 L77.69 510.69 L76.78 509.16 L75.88 507.63 L74.98 506.09 L74.08 504.56 L73.19 503.03 L72.31 501.5 L71.43 499.97 L70.56 498.44 L69.7 496.91 L68.86 495.38 L68.02 493.85 L67.2 492.31 L66.39 490.78 L65.59 489.25 L64.81 487.72 L64.04 486.19 L63.26 484.66 L62.49 483.13 L61.72 481.6 L60.95 480.06 L60.19 478.53 L59.44 477 L58.68 475.47 L57.94 473.94 L57.2 472.41 L56.48 470.88 L55.76 469.35 L55.05 467.82 L54.35 466.28 L53.67 464.75 L53 463.22 L52.34 461.69 L51.7 460.16 L51.07 458.63 L50.46 457.1 L49.87 455.57 L49.3 454.03 L48.74 452.5 L48.2 450.97 L47.69 449.44 L47.18 447.91 L46.69 446.38 L46.21 444.85 L45.74 443.32 L45.28 441.79 L44.82 440.25 L44.38 438.72 L43.94 437.19 L43.52 435.66 L43.11 434.13 L42.72 432.6 L42.34 431.07 L41.97 429.54 L41.63 428 L41.31 426.47 L41 424.94 L40.71 423.41 L40.44 421.88 L40.17 420.35 L39.91 418.82 L39.66 417.29 L39.42 415.75 L39.18 414.22 L38.94 412.69 L38.71 411.16 L38.47 409.63 L38.24 408.1 L38 406.57 L37.75 405.04 L37.5 403.51 L37.5 401.25 L37.82 402.81 L38.13 404.37 L38.44 405.93 L38.74 407.49 L39.04 409.05 L39.34 410.61 L39.64 412.17 L39.94 413.73 L40.25 415.29 L40.56 416.84 L40.88 418.4 L41.21 419.96 L41.55 421.52 L41.9 423.08 L42.26 424.64 L42.64 426.2 L43.04 427.76 L43.46 429.32 L43.89 430.88 L44.34 432.44 L44.8 434 L45.27 435.56 L45.75 437.12 L46.25 438.68 L46.75 440.24 L47.27 441.79 L47.8 443.35 L48.33 444.91 L48.89 446.47 L49.46 448.03 L50.04 449.59 L50.65 451.15 L51.29 452.71 L51.95 454.27 L52.63 455.83 L53.34 457.39 L54.07 458.95 L54.82 460.51 L55.59 462.07 L56.38 463.63 L57.19 465.18 L58.01 466.74 L58.85 468.3 L59.7 469.86 L60.56 471.42 L61.44 472.98 L62.32 474.54 L63.21 476.1 L64.11 477.66 L65.02 479.22 L65.93 480.78 L66.84 482.34 L67.75 483.9 L68.67 485.46 L69.59 487.02 L70.51 488.58 L71.44 490.13 L72.39 491.69 L73.35 493.25 L74.33 494.81 L75.32 496.37 L76.33 497.93 L77.34 499.49 L78.37 501.05 L79.41 502.61 L80.45 504.17 L81.5 505.73 L82.55 507.29 L83.61 508.85 L84.68 510.41 L85.74 511.97 L86.81 513.53 L87.87 515.08 L88.94 516.64 L90 518.2 L91.06 519.76 L92.11 521.32 L93.16 522.88 L94.2 524.44 L95.23 526 Z" fill="#c8f2f8" stroke="none"/><path d="M106 526 L104.77 524.43 L103.54 522.85 L102.3 521.28 L101.05 519.71 L99.8 518.13 L98.54 516.56 L97.28 514.99 L96.02 513.41 L94.76 511.84 L93.5 510.27 L92.24 508.69 L90.99 507.12 L89.75 505.55 L88.5 503.97 L87.27 502.4 L86.05 500.82 L84.84 499.25 L83.64 497.68 L82.45 496.1 L81.27 494.53 L80.12 492.96 L78.98 491.38 L77.86 489.81 L76.75 488.24 L75.66 486.66 L74.55 485.09 L73.45 483.52 L72.34 481.94 L71.23 480.37 L70.13 478.8 L69.03 477.22 L67.93 475.65 L66.85 474.08 L65.78 472.5 L64.72 470.93 L63.67 469.36 L62.64 467.78 L61.64 466.21 L60.65 464.64 L59.68 463.06 L58.74 461.49 L57.83 459.91 L56.94 458.34 L56.09 456.77 L55.27 455.19 L54.48 453.62 L53.73 452.05 L53.02 450.47 L52.34 448.9 L51.69 447.33 L51.07 445.75 L50.46 444.18 L49.89 442.61 L49.32 441.03 L48.78 439.46 L48.25 437.89 L47.73 436.31 L47.22 434.74 L46.72 433.17 L46.22 431.59 L45.73 430.02 L45.24 428.45 L44.77 426.87 L44.3 425.3 L43.85 423.73 L43.4 422.15 L42.96 420.58 L42.53 419.01 L42.11 417.43 L41.68 415.86 L41.27 414.28 L40.85 412.71 L40.44 411.14 L40.02 409.56 L39.61 407.99 L39.19 406.42 L38.78 404.84 L38.36 403.27 L37.93 401.7 L37.5 400.12" fill="none" stroke="#663210" stroke-width="2.6" stroke-linejoin="round" stroke-linecap="butt"/><path d="M101.54 526 L100.4 524.43 L99.24 522.85 L98.08 521.28 L96.91 519.71 L95.74 518.13 L94.57 516.56 L93.39 514.99 L92.21 513.41 L91.03 511.84 L89.85 510.27 L88.67 508.69 L87.5 507.12 L86.33 505.55 L85.17 503.97 L84.01 502.4 L82.87 500.82 L81.73 499.25 L80.6 497.68 L79.49 496.1 L78.39 494.53 L77.31 492.96 L76.24 491.38 L75.19 489.81 L74.16 488.24 L73.13 486.66 L72.11 485.09 L71.08 483.52 L70.06 481.94 L69.04 480.37 L68.01 478.8 L67 477.22 L65.99 475.65 L64.99 474.08 L64 472.5 L63.02 470.93 L62.05 469.36 L61.1 467.78 L60.16 466.21 L59.24 464.64 L58.34 463.06 L57.46 461.49 L56.61 459.91 L55.78 458.34 L54.97 456.77 L54.2 455.19 L53.45 453.62 L52.73 452.05 L52.05 450.47 L51.4 448.9 L50.76 447.33 L50.16 445.75 L49.57 444.18 L49 442.61 L48.45 441.03 L47.91 439.46 L47.38 437.89 L46.86 436.31 L46.36 434.74 L45.86 433.17 L45.37 431.59 L44.89 430.02 L44.42 428.45 L43.97 426.87 L43.53 425.3 L43.11 423.73 L42.7 422.15 L42.3 420.58 L41.91 419.01 L41.53 417.43 L41.15 415.86 L40.79 414.28 L40.42 412.71 L40.06 411.14 L39.7 409.56 L39.34 407.99 L38.98 406.42 L38.62 404.84 L38.25 403.27 L37.88 401.7 L37.5 400.12" fill="none" stroke="#d6ca22" stroke-width="2.6" stroke-linejoin="round" stroke-linecap="butt"/><path d="M95.23 526 L94.2 524.44 L93.16 522.88 L92.11 521.32 L91.06 519.76 L90 518.2 L88.94 516.64 L87.87 515.08 L86.81 513.53 L85.74 511.97 L84.68 510.41 L83.61 508.85 L82.55 507.29 L81.5 505.73 L80.45 504.17 L79.41 502.61 L78.37 501.05 L77.34 499.49 L76.33 497.93 L75.32 496.37 L74.33 494.81 L73.35 493.25 L72.39 491.69 L71.44 490.13 L70.51 488.58 L69.59 487.02 L68.67 485.46 L67.75 483.9 L66.84 482.34 L65.93 480.78 L65.02 479.22 L64.11 477.66 L63.21 476.1 L62.32 474.54 L61.44 472.98 L60.56 471.42 L59.7 469.86 L58.85 468.3 L58.01 466.74 L57.19 465.18 L56.38 463.63 L55.59 462.07 L54.82 460.51 L54.07 458.95 L53.34 457.39 L52.63 455.83 L51.95 454.27 L51.29 452.71 L50.65 451.15 L50.04 449.59 L49.46 448.03 L48.89 446.47 L48.33 444.91 L47.8 443.35 L47.27 441.79 L46.75 440.24 L46.25 438.68 L45.75 437.12 L45.27 435.56 L44.8 434 L44.34 432.44 L43.89 430.88 L43.46 429.32 L43.04 427.76 L42.64 426.2 L42.26 424.64 L41.9 423.08 L41.55 421.52 L41.21 419.96 L40.88 418.4 L40.56 416.84 L40.25 415.29 L39.94 413.73 L39.64 412.17 L39.34 410.61 L39.04 409.05 L38.74 407.49 L38.44 405.93 L38.13 404.37 L37.82 402.81 L37.5 401.25" fill="none" stroke="#a4c24a" stroke-width="2.6" stroke-linejoin="round" stroke-linecap="butt"/><path d="M86.69 526 L85.81 524.47 L84.93 522.94 L84.03 521.41 L83.13 519.88 L82.23 518.34 L81.33 516.81 L80.42 515.28 L79.51 513.75 L78.6 512.22 L77.69 510.69 L76.78 509.16 L75.88 507.63 L74.98 506.09 L74.08 504.56 L73.19 503.03 L72.31 501.5 L71.43 499.97 L70.56 498.44 L69.7 496.91 L68.86 495.38 L68.02 493.85 L67.2 492.31 L66.39 490.78 L65.59 489.25 L64.81 487.72 L64.04 486.19 L63.26 484.66 L62.49 483.13 L61.72 481.6 L60.95 480.06 L60.19 478.53 L59.44 477 L58.68 475.47 L57.94 473.94 L57.2 472.41 L56.48 470.88 L55.76 469.35 L55.05 467.82 L54.35 466.28 L53.67 464.75 L53 463.22 L52.34 461.69 L51.7 460.16 L51.07 458.63 L50.46 457.1 L49.87 455.57 L49.3 454.03 L48.74 452.5 L48.2 450.97 L47.69 449.44 L47.18 447.91 L46.69 446.38 L46.21 444.85 L45.74 443.32 L45.28 441.79 L44.82 440.25 L44.38 438.72 L43.94 437.19 L43.52 435.66 L43.11 434.13 L42.72 432.6 L42.34 431.07 L41.97 429.54 L41.63 428 L41.31 426.47 L41 424.94 L40.71 423.41 L40.44 421.88 L40.17 420.35 L39.91 418.82 L39.66 417.29 L39.42 415.75 L39.18 414.22 L38.94 412.69 L38.71 411.16 L38.47 409.63 L38.24 408.1 L38 406.57 L37.75 405.04 L37.5 403.51" fill="none" stroke="#6a7ee0" stroke-width="2.6" stroke-linejoin="round" stroke-linecap="butt"/><path d="M79.82 526 L79.07 524.49 L78.3 522.98 L77.53 521.48 L76.76 519.97 L75.98 518.46 L75.2 516.95 L74.42 515.45 L73.64 513.94 L72.85 512.43 L72.07 510.92 L71.29 509.42 L70.51 507.91 L69.73 506.4 L68.96 504.89 L68.19 503.38 L67.43 501.88 L66.67 500.37 L65.93 498.86 L65.19 497.35 L64.46 495.85 L63.74 494.34 L63.03 492.83 L62.33 491.32 L61.64 489.82 L60.97 488.31 L60.31 486.8 L59.65 485.29 L58.99 483.78 L58.34 482.28 L57.69 480.77 L57.04 479.26 L56.4 477.75 L55.76 476.25 L55.12 474.74 L54.5 473.23 L53.88 471.72 L53.27 470.22 L52.66 468.71 L52.07 467.2 L51.48 465.69 L50.9 464.18 L50.34 462.68 L49.78 461.17 L49.24 459.66 L48.71 458.15 L48.19 456.65 L47.69 455.14 L47.2 453.63 L46.72 452.12 L46.26 450.62 L45.81 449.11 L45.38 447.6 L44.94 446.09 L44.52 444.58 L44.1 443.08 L43.68 441.57 L43.28 440.06 L42.89 438.55 L42.51 437.05 L42.14 435.54 L41.79 434.03 L41.45 432.52 L41.13 431.02 L40.84 429.51 L40.56 428 L40.3 426.49 L40.06 424.98 L39.83 423.48 L39.62 421.97 L39.41 420.46 L39.21 418.95 L39.01 417.45 L38.82 415.94 L38.64 414.43 L38.45 412.92 L38.27 411.42 L38.08 409.91 L37.89 408.4 L37.7 406.89 L37.5 405.38" fill="none" stroke="#0e0e40" stroke-width="2.6" stroke-linejoin="round" stroke-linecap="butt"/><path d="M72.95 526 L72.32 524.53 L71.68 523.07 L71.04 521.6 L70.39 520.14 L69.74 518.67 L69.08 517.21 L68.43 515.74 L67.77 514.28 L67.11 512.81 L66.45 511.35 L65.8 509.88 L65.14 508.41 L64.49 506.95 L63.84 505.48 L63.2 504.02 L62.56 502.55 L61.92 501.09 L61.3 499.62 L60.67 498.16 L60.06 496.69 L59.46 495.23 L58.86 493.76 L58.28 492.3 L57.7 490.83 L57.14 489.36 L56.59 487.9 L56.04 486.43 L55.5 484.97 L54.96 483.5 L54.42 482.04 L53.88 480.57 L53.35 479.11 L52.82 477.64 L52.3 476.18 L51.78 474.71 L51.26 473.24 L50.76 471.78 L50.25 470.31 L49.76 468.85 L49.27 467.38 L48.79 465.92 L48.31 464.45 L47.85 462.99 L47.39 461.52 L46.94 460.06 L46.5 458.59 L46.07 457.13 L45.65 455.66 L45.24 454.19 L44.84 452.73 L44.45 451.26 L44.07 449.8 L43.69 448.33 L43.32 446.87 L42.95 445.4 L42.59 443.94 L42.23 442.47 L41.89 441.01 L41.55 439.54 L41.23 438.07 L40.93 436.61 L40.64 435.14 L40.37 433.68 L40.11 432.21 L39.88 430.75 L39.67 429.28 L39.48 427.82 L39.29 426.35 L39.12 424.89 L38.96 423.42 L38.8 421.95 L38.65 420.49 L38.51 419.02 L38.37 417.56 L38.23 416.09 L38.09 414.63 L37.95 413.16 L37.8 411.7 L37.65 410.23 L37.5 408.77" fill="none" stroke="#4a3a9a" stroke-width="2.6" stroke-linejoin="round" stroke-linecap="butt"/><rect x="37.5" y="375.7" width="148.5" height="150.3" fill="none" stroke="#7a7a7a" stroke-width="1.3"/><path d="M37.5 526h2.5 M37.5 488.43h2.5 M37.5 450.85h2.5 M37.5 413.27h2.5 M37.5 375.7h2.5 M37.5 526v-2.2 M74.62 526v-2.2 M111.75 526v-2.2 M148.88 526v-2.2 M186 526v-2.2" stroke="#666" stroke-width="1" fill="none"/><text x="32" y="528.3" font-size="7" fill="#333" text-anchor="end" stroke="#333" stroke-width="0.2">0</text><text x="32" y="490.73" font-size="7" fill="#333" text-anchor="end" stroke="#333" stroke-width="0.2">10</text><text x="32" y="453.15" font-size="7" fill="#333" text-anchor="end" stroke="#333" stroke-width="0.2">20</text><text x="32" y="415.57" font-size="7" fill="#333" text-anchor="end" stroke="#333" stroke-width="0.2">30</text><text x="32" y="378" font-size="7" fill="#333" text-anchor="end" stroke="#333" stroke-width="0.2">40</text><text x="37.5" y="536.4" font-size="7" fill="#333" text-anchor="middle" stroke="#333" stroke-width="0.2">0</text><text x="74.62" y="536.4" font-size="7" fill="#333" text-anchor="middle" stroke="#333" stroke-width="0.2">2</text><text x="111.75" y="536.4" font-size="7" fill="#333" text-anchor="middle" stroke="#333" stroke-width="0.2">4</text><text x="148.88" y="536.4" font-size="7" fill="#333" text-anchor="middle" stroke="#333" stroke-width="0.2">6</text><text x="186" y="536.4" font-size="7" fill="#333" text-anchor="middle" stroke="#333" stroke-width="0.2">8</text><text x="111.75" y="546.1" font-size="7" fill="#222" text-anchor="middle" stroke="#222" stroke-width="0.2">Current [A]</text><text transform="translate(20.7 450.85) rotate(-90)" font-size="6.9" fill="#222" text-anchor="middle" stroke="#222" stroke-width="0.2">Voltage [V]</text><text x="43.6" y="391.9" font-size="10.5" fill="#111" stroke="#111" stroke-width="0.25">Q = 6 L/min</text><text x="5.6" y="381" font-size="11" font-weight="bold" fill="#111" stroke="#111" stroke-width="0.2">(E)</text><rect x="127.8" y="380.5" width="53" height="33.3" fill="#fff" stroke="#484848" stroke-width="1"/><circle cx="134.4" cy="386.1" r="1.1" fill="#6a3612"/><text x="137" y="388.9" font-size="6.1" fill="#1a1a1a" stroke="#1a1a1a" stroke-width="0.2">35<tspan fill="#777" font-size="5.6" stroke="#777" stroke-width="0.2">°</tspan><tspan fill="#777" font-size="5.6" dx="-0.7" stroke="#777" stroke-width="0.2">C</tspan></text><circle cx="161.1" cy="386.1" r="1.1" fill="#c8dc60"/><text x="163.7" y="388.9" font-size="6.1" fill="#1a1a1a" stroke="#1a1a1a" stroke-width="0.2">30<tspan fill="#777" font-size="5.6" stroke="#777" stroke-width="0.2">°</tspan><tspan fill="#777" font-size="5.6" dx="-0.7" stroke="#777" stroke-width="0.2">C</tspan></text><circle cx="134.4" cy="397.6" r="1.1" fill="#d8c890"/><text x="137" y="400.4" font-size="6.1" fill="#1a1a1a" stroke="#1a1a1a" stroke-width="0.2">25<tspan fill="#777" font-size="5.6" stroke="#777" stroke-width="0.2">°</tspan><tspan fill="#777" font-size="5.6" dx="-0.7" stroke="#777" stroke-width="0.2">C</tspan></text><circle cx="161.1" cy="397.6" r="1.1" fill="#8a88e0"/><text x="163.7" y="400.4" font-size="6.1" fill="#1a1a1a" stroke="#1a1a1a" stroke-width="0.2">20<tspan fill="#777" font-size="5.6" stroke="#777" stroke-width="0.2">°</tspan><tspan fill="#777" font-size="5.6" dx="-0.7" stroke="#777" stroke-width="0.2">C</tspan></text><circle cx="134.4" cy="409.1" r="1.1" fill="#141450"/><text x="137" y="411.9" font-size="6.1" fill="#1a1a1a" stroke="#1a1a1a" stroke-width="0.2">15<tspan fill="#777" font-size="5.6" stroke="#777" stroke-width="0.2">°</tspan><tspan fill="#777" font-size="5.6" dx="-0.7" stroke="#777" stroke-width="0.2">C</tspan></text><circle cx="161.1" cy="409.1" r="1.1" fill="#4a3a96"/><text x="163.7" y="411.9" font-size="6.1" fill="#1a1a1a" stroke="#1a1a1a" stroke-width="0.2">10<tspan fill="#777" font-size="5.6" stroke="#777" stroke-width="0.2">°</tspan><tspan fill="#777" font-size="5.6" dx="-0.7" stroke="#777" stroke-width="0.2">C</tspan></text></g>
<g><path d="M278.45 524.6 L277.87 522.47 L277.28 520.4 L276.69 518.37 L276.1 516.4 L275.51 514.48 L274.91 512.62 L274.31 510.81 L273.71 509.05 L273.11 507.34 L272.51 505.69 L271.91 504.09 L271.3 502.54 L270.7 501.05 L270.1 499.61 L269.49 498.22 L268.89 496.88 L268.29 495.6 L267.69 494.37 L267.09 493.19 L266.5 492.06 L265.9 490.98 L265.31 489.96 L264.72 488.98 L264.14 488.05 L263.55 487.16 L262.98 486.33 L262.4 485.54 L261.83 484.79 L261.26 484.09 L260.7 483.43 L260.15 482.82 L259.6 482.25 L259.05 481.71 L258.52 481.22 L257.98 480.76 L257.46 480.34 L256.94 479.96 L256.42 479.62 L255.91 479.31 L255.39 479.06 L254.88 478.84 L254.37 478.67 L253.86 478.54 L253.35 478.46 L252.84 478.41 L252.33 478.41 L251.83 478.45 L251.33 478.52 L250.83 478.64 L250.33 478.79 L249.84 478.98 L249.35 479.21 L248.87 479.47 L248.38 479.76 L247.91 480.08 L247.43 480.44 L246.96 480.82 L246.5 481.24 L246.04 481.68 L245.59 482.15 L245.14 482.64 L244.7 483.15 L244.27 483.69 L243.84 484.24 L243.42 484.81 L243.01 485.4 L242.6 486.01 L242.2 486.62 L241.81 487.25 L241.43 487.89 L241.05 488.53 L240.69 489.18 L240.33 489.84 L239.98 490.5 L239.64 491.17 L239.3 491.85 L238.97 492.53 L238.65 493.22 L238.33 493.93 L238.01 494.66 L237.7 495.4 L237.39 496.15 L237.09 496.91 L236.79 497.69 L236.49 498.47 L236.2 499.27 L235.91 500.07 L235.63 500.87 L235.36 501.68 L235.09 502.49 L234.82 503.31 L234.56 504.12 L234.31 504.92 L234.07 505.71 L233.84 506.49 L233.61 507.25 L233.39 507.99 L233.19 508.72 L232.99 509.42 L232.79 510.12 L232.61 510.81 L232.42 511.49 L232.25 512.17 L232.07 512.84 L231.9 513.51 L231.74 514.18 L231.57 514.85 L231.41 515.52 L231.25 516.2 L231.09 516.89 L230.94 517.58 L230.78 518.29 L230.63 519 L230.47 519.74 L230.31 520.49 L230.15 521.26 L229.99 522.05 L229.83 522.87 L229.67 523.72 L229.5 524.6 L229.5 524.6 L229.71 523.52 L229.92 522.46 L230.13 521.45 L230.33 520.46 L230.54 519.49 L230.74 518.55 L230.94 517.63 L231.14 516.74 L231.34 515.85 L231.54 514.99 L231.74 514.14 L231.94 513.29 L232.15 512.46 L232.35 511.64 L232.56 510.82 L232.77 510 L232.99 509.19 L233.21 508.38 L233.43 507.57 L233.66 506.76 L233.9 505.94 L234.14 505.12 L234.38 504.29 L234.64 503.45 L234.9 502.6 L235.18 501.73 L235.46 500.86 L235.74 499.98 L236.04 499.1 L236.34 498.22 L236.64 497.35 L236.95 496.49 L237.27 495.63 L237.59 494.78 L237.91 493.95 L238.24 493.12 L238.58 492.31 L238.92 491.5 L239.26 490.71 L239.61 489.92 L239.97 489.15 L240.33 488.4 L240.7 487.65 L241.07 486.92 L241.45 486.19 L241.84 485.46 L242.24 484.74 L242.65 484.03 L243.07 483.31 L243.5 482.6 L243.94 481.9 L244.39 481.19 L244.86 480.5 L245.33 479.82 L245.82 479.15 L246.31 478.49 L246.81 477.85 L247.32 477.24 L247.84 476.64 L248.37 476.07 L248.91 475.52 L249.45 475 L250 474.52 L250.56 474.06 L251.12 473.64 L251.69 473.25 L252.26 472.89 L252.84 472.58 L253.42 472.3 L254.01 472.07 L254.6 471.88 L255.2 471.73 L255.8 471.63 L256.4 471.57 L257 471.56 L257.61 471.59 L258.22 471.68 L258.82 471.81 L259.43 472 L260.04 472.24 L260.65 472.52 L261.26 472.87 L261.88 473.26 L262.49 473.7 L263.11 474.18 L263.74 474.71 L264.37 475.28 L265.01 475.9 L265.66 476.56 L266.31 477.27 L266.97 478.02 L267.64 478.83 L268.31 479.69 L268.98 480.6 L269.66 481.56 L270.35 482.58 L271.04 483.65 L271.73 484.78 L272.43 485.96 L273.13 487.2 L273.83 488.5 L274.53 489.86 L275.24 491.28 L275.94 492.75 L276.65 494.29 L277.36 495.88 L278.07 497.54 L278.78 499.25 L279.49 501.03 L280.2 502.87 L280.91 504.77 L281.62 506.73 L282.32 508.75 L283.03 510.83 L283.73 512.98 L284.43 515.18 L285.13 517.45 L285.82 519.77 L286.51 522.16 L287.2 524.6 Z" fill="#c8f2f8" stroke="none"/><path d="M297.81 524.6 L297 521.65 L296.18 518.76 L295.36 515.95 L294.53 513.22 L293.71 510.55 L292.88 507.96 L292.04 505.44 L291.21 503 L290.37 500.63 L289.54 498.33 L288.7 496.11 L287.86 493.95 L287.02 491.88 L286.18 489.87 L285.35 487.94 L284.51 486.08 L283.68 484.3 L282.85 482.58 L282.02 480.94 L281.19 479.36 L280.37 477.86 L279.54 476.42 L278.73 475.05 L277.92 473.75 L277.11 472.52 L276.31 471.35 L275.51 470.24 L274.72 469.2 L273.93 468.21 L273.15 467.29 L272.38 466.43 L271.62 465.62 L270.86 464.87 L270.12 464.17 L269.38 463.53 L268.65 462.93 L267.92 462.4 L267.18 461.94 L266.45 461.54 L265.71 461.21 L264.98 460.95 L264.24 460.75 L263.51 460.61 L262.77 460.54 L262.04 460.53 L261.31 460.58 L260.58 460.69 L259.85 460.85 L259.13 461.07 L258.41 461.34 L257.7 461.66 L256.99 462.04 L256.29 462.46 L255.6 462.92 L254.92 463.43 L254.24 463.98 L253.57 464.57 L252.91 465.19 L252.26 465.84 L251.62 466.52 L250.99 467.23 L250.38 467.96 L249.77 468.72 L249.18 469.49 L248.6 470.27 L248.04 471.07 L247.49 471.87 L246.95 472.67 L246.43 473.47 L245.93 474.27 L245.44 475.06 L244.98 475.84 L244.52 476.62 L244.08 477.39 L243.65 478.16 L243.23 478.93 L242.83 479.7 L242.43 480.47 L242.04 481.24 L241.66 482.02 L241.29 482.8 L240.93 483.59 L240.57 484.39 L240.22 485.2 L239.87 486.01 L239.53 486.84 L239.2 487.69 L238.86 488.55 L238.53 489.43 L238.2 490.34 L237.87 491.27 L237.54 492.22 L237.22 493.18 L236.9 494.14 L236.59 495.12 L236.28 496.1 L235.98 497.09 L235.68 498.09 L235.39 499.1 L235.09 500.12 L234.8 501.16 L234.52 502.2 L234.23 503.26 L233.95 504.34 L233.67 505.43 L233.39 506.54 L233.12 507.67 L232.84 508.81 L232.57 509.98 L232.29 511.17 L232.02 512.38 L231.74 513.62 L231.47 514.88 L231.19 516.17 L230.91 517.49 L230.63 518.85 L230.35 520.23 L230.07 521.65 L229.79 523.11 L229.5 524.6" fill="none" stroke="#663210" stroke-width="2.6" stroke-linejoin="round" stroke-linecap="butt"/><path d="M293.71 524.6 L292.95 521.87 L292.18 519.2 L291.41 516.6 L290.63 514.07 L289.86 511.6 L289.07 509.2 L288.29 506.87 L287.51 504.61 L286.72 502.42 L285.93 500.29 L285.14 498.24 L284.35 496.25 L283.56 494.33 L282.78 492.48 L281.99 490.69 L281.2 488.97 L280.42 487.32 L279.63 485.73 L278.85 484.22 L278.07 482.76 L277.29 481.37 L276.52 480.04 L275.75 478.78 L274.99 477.58 L274.23 476.44 L273.47 475.36 L272.72 474.34 L271.98 473.38 L271.24 472.47 L270.5 471.62 L269.78 470.82 L269.06 470.08 L268.35 469.39 L267.64 468.75 L266.95 468.15 L266.26 467.61 L265.57 467.11 L264.89 466.68 L264.2 466.31 L263.52 465.99 L262.83 465.74 L262.15 465.54 L261.46 465.4 L260.78 465.32 L260.1 465.3 L259.42 465.33 L258.74 465.41 L258.07 465.54 L257.4 465.73 L256.73 465.96 L256.07 466.24 L255.41 466.57 L254.76 466.94 L254.11 467.35 L253.48 467.8 L252.84 468.29 L252.22 468.82 L251.6 469.38 L251 469.97 L250.4 470.59 L249.81 471.24 L249.23 471.91 L248.66 472.61 L248.1 473.32 L247.56 474.05 L247.02 474.79 L246.5 475.54 L245.99 476.3 L245.49 477.07 L245.01 477.83 L244.54 478.6 L244.09 479.36 L243.65 480.11 L243.22 480.87 L242.8 481.64 L242.39 482.4 L241.99 483.17 L241.6 483.94 L241.22 484.72 L240.84 485.51 L240.48 486.31 L240.11 487.12 L239.76 487.94 L239.4 488.77 L239.06 489.61 L238.72 490.46 L238.38 491.32 L238.05 492.2 L237.72 493.09 L237.39 494 L237.07 494.92 L236.75 495.85 L236.44 496.79 L236.14 497.72 L235.84 498.66 L235.55 499.59 L235.26 500.52 L234.99 501.45 L234.71 502.37 L234.45 503.3 L234.18 504.23 L233.92 505.17 L233.67 506.11 L233.41 507.07 L233.16 508.03 L232.92 509 L232.67 509.98 L232.43 510.97 L232.19 511.99 L231.95 513.01 L231.71 514.06 L231.46 515.12 L231.22 516.21 L230.98 517.32 L230.74 518.46 L230.5 519.62 L230.25 520.82 L230 522.04 L229.75 523.3 L229.5 524.6" fill="none" stroke="#d6ca22" stroke-width="2.6" stroke-linejoin="round" stroke-linecap="butt"/><path d="M287.2 524.6 L286.51 522.16 L285.82 519.77 L285.13 517.45 L284.43 515.18 L283.73 512.98 L283.03 510.83 L282.32 508.75 L281.62 506.73 L280.91 504.77 L280.2 502.87 L279.49 501.03 L278.78 499.25 L278.07 497.54 L277.36 495.88 L276.65 494.29 L275.94 492.75 L275.24 491.28 L274.53 489.86 L273.83 488.5 L273.13 487.2 L272.43 485.96 L271.73 484.78 L271.04 483.65 L270.35 482.58 L269.66 481.56 L268.98 480.6 L268.31 479.69 L267.64 478.83 L266.97 478.02 L266.31 477.27 L265.66 476.56 L265.01 475.9 L264.37 475.28 L263.74 474.71 L263.11 474.18 L262.49 473.7 L261.88 473.26 L261.26 472.87 L260.65 472.52 L260.04 472.24 L259.43 472 L258.82 471.81 L258.22 471.68 L257.61 471.59 L257 471.56 L256.4 471.57 L255.8 471.63 L255.2 471.73 L254.6 471.88 L254.01 472.07 L253.42 472.3 L252.84 472.58 L252.26 472.89 L251.69 473.25 L251.12 473.64 L250.56 474.06 L250 474.52 L249.45 475 L248.91 475.52 L248.37 476.07 L247.84 476.64 L247.32 477.24 L246.81 477.85 L246.31 478.49 L245.82 479.15 L245.33 479.82 L244.86 480.5 L244.39 481.19 L243.94 481.9 L243.5 482.6 L243.07 483.31 L242.65 484.03 L242.24 484.74 L241.84 485.46 L241.45 486.19 L241.07 486.92 L240.7 487.65 L240.33 488.4 L239.97 489.15 L239.61 489.92 L239.26 490.71 L238.92 491.5 L238.58 492.31 L238.24 493.12 L237.91 493.95 L237.59 494.78 L237.27 495.63 L236.95 496.49 L236.64 497.35 L236.34 498.22 L236.04 499.1 L235.74 499.98 L235.46 500.86 L235.18 501.73 L234.9 502.6 L234.64 503.45 L234.38 504.29 L234.14 505.12 L233.9 505.94 L233.66 506.76 L233.43 507.57 L233.21 508.38 L232.99 509.19 L232.77 510 L232.56 510.82 L232.35 511.64 L232.15 512.46 L231.94 513.29 L231.74 514.14 L231.54 514.99 L231.34 515.85 L231.14 516.74 L230.94 517.63 L230.74 518.55 L230.54 519.49 L230.33 520.46 L230.13 521.45 L229.92 522.46 L229.71 523.52 L229.5 524.6" fill="none" stroke="#a4c24a" stroke-width="2.6" stroke-linejoin="round" stroke-linecap="butt"/><path d="M278.45 524.6 L277.87 522.47 L277.28 520.4 L276.69 518.37 L276.1 516.4 L275.51 514.48 L274.91 512.62 L274.31 510.81 L273.71 509.05 L273.11 507.34 L272.51 505.69 L271.91 504.09 L271.3 502.54 L270.7 501.05 L270.1 499.61 L269.49 498.22 L268.89 496.88 L268.29 495.6 L267.69 494.37 L267.09 493.19 L266.5 492.06 L265.9 490.98 L265.31 489.96 L264.72 488.98 L264.14 488.05 L263.55 487.16 L262.98 486.33 L262.4 485.54 L261.83 484.79 L261.26 484.09 L260.7 483.43 L260.15 482.82 L259.6 482.25 L259.05 481.71 L258.52 481.22 L257.98 480.76 L257.46 480.34 L256.94 479.96 L256.42 479.62 L255.91 479.31 L255.39 479.06 L254.88 478.84 L254.37 478.67 L253.86 478.54 L253.35 478.46 L252.84 478.41 L252.33 478.41 L251.83 478.45 L251.33 478.52 L250.83 478.64 L250.33 478.79 L249.84 478.98 L249.35 479.21 L248.87 479.47 L248.38 479.76 L247.91 480.08 L247.43 480.44 L246.96 480.82 L246.5 481.24 L246.04 481.68 L245.59 482.15 L245.14 482.64 L244.7 483.15 L244.27 483.69 L243.84 484.24 L243.42 484.81 L243.01 485.4 L242.6 486.01 L242.2 486.62 L241.81 487.25 L241.43 487.89 L241.05 488.53 L240.69 489.18 L240.33 489.84 L239.98 490.5 L239.64 491.17 L239.3 491.85 L238.97 492.53 L238.65 493.22 L238.33 493.93 L238.01 494.66 L237.7 495.4 L237.39 496.15 L237.09 496.91 L236.79 497.69 L236.49 498.47 L236.2 499.27 L235.91 500.07 L235.63 500.87 L235.36 501.68 L235.09 502.49 L234.82 503.31 L234.56 504.12 L234.31 504.92 L234.07 505.71 L233.84 506.49 L233.61 507.25 L233.39 507.99 L233.19 508.72 L232.99 509.42 L232.79 510.12 L232.61 510.81 L232.42 511.49 L232.25 512.17 L232.07 512.84 L231.9 513.51 L231.74 514.18 L231.57 514.85 L231.41 515.52 L231.25 516.2 L231.09 516.89 L230.94 517.58 L230.78 518.29 L230.63 519 L230.47 519.74 L230.31 520.49 L230.15 521.26 L229.99 522.05 L229.83 522.87 L229.67 523.72 L229.5 524.6" fill="none" stroke="#6a7ee0" stroke-width="2.6" stroke-linejoin="round" stroke-linecap="butt"/><path d="M271.94 524.6 L271.43 522.79 L270.92 521.02 L270.41 519.3 L269.9 517.62 L269.38 515.99 L268.87 514.4 L268.35 512.86 L267.83 511.36 L267.31 509.91 L266.78 508.5 L266.26 507.14 L265.74 505.83 L265.21 504.56 L264.69 503.33 L264.16 502.15 L263.64 501.02 L263.12 499.93 L262.6 498.88 L262.08 497.88 L261.56 496.92 L261.04 496 L260.53 495.13 L260.02 494.3 L259.51 493.51 L259 492.76 L258.5 492.05 L258 491.38 L257.51 490.75 L257.02 490.15 L256.53 489.59 L256.05 489.07 L255.57 488.59 L255.1 488.14 L254.63 487.72 L254.17 487.33 L253.71 486.97 L253.26 486.65 L252.81 486.36 L252.37 486.09 L251.93 485.87 L251.49 485.68 L251.05 485.52 L250.61 485.41 L250.18 485.32 L249.74 485.28 L249.31 485.26 L248.88 485.28 L248.45 485.34 L248.02 485.42 L247.59 485.54 L247.17 485.69 L246.75 485.87 L246.34 486.08 L245.92 486.31 L245.51 486.58 L245.11 486.87 L244.7 487.19 L244.3 487.53 L243.91 487.9 L243.52 488.29 L243.13 488.7 L242.75 489.14 L242.37 489.59 L242 490.06 L241.63 490.55 L241.27 491.06 L240.92 491.58 L240.57 492.11 L240.22 492.66 L239.88 493.22 L239.55 493.79 L239.23 494.37 L238.91 494.96 L238.59 495.55 L238.29 496.16 L237.98 496.76 L237.69 497.38 L237.4 498.01 L237.11 498.65 L236.82 499.32 L236.54 500 L236.25 500.69 L235.98 501.4 L235.7 502.11 L235.43 502.84 L235.17 503.57 L234.9 504.3 L234.65 505.04 L234.4 505.78 L234.15 506.51 L233.92 507.25 L233.69 507.97 L233.46 508.69 L233.25 509.39 L233.04 510.07 L232.85 510.73 L232.66 511.38 L232.48 511.99 L232.31 512.59 L232.15 513.17 L231.99 513.74 L231.84 514.3 L231.69 514.85 L231.55 515.39 L231.41 515.93 L231.28 516.46 L231.15 517 L231.02 517.53 L230.89 518.06 L230.77 518.59 L230.64 519.13 L230.52 519.68 L230.39 520.24 L230.27 520.8 L230.15 521.39 L230.02 521.99 L229.9 522.6 L229.77 523.24 L229.63 523.91 L229.5 524.6" fill="none" stroke="#0e0e40" stroke-width="2.6" stroke-linejoin="round" stroke-linecap="butt"/><path d="M265.61 524.6 L265.18 523.08 L264.75 521.59 L264.31 520.15 L263.88 518.74 L263.44 517.36 L263 516.03 L262.55 514.73 L262.11 513.48 L261.67 512.26 L261.22 511.07 L260.77 509.93 L260.33 508.83 L259.88 507.76 L259.43 506.73 L258.99 505.74 L258.54 504.79 L258.1 503.87 L257.65 502.99 L257.21 502.15 L256.77 501.35 L256.33 500.58 L255.89 499.84 L255.45 499.15 L255.02 498.48 L254.59 497.86 L254.16 497.26 L253.73 496.7 L253.31 496.17 L252.89 495.67 L252.48 495.21 L252.07 494.77 L251.66 494.36 L251.26 493.99 L250.86 493.64 L250.46 493.31 L250.08 493.02 L249.69 492.74 L249.31 492.49 L248.94 492.27 L248.57 492.07 L248.2 491.91 L247.83 491.77 L247.46 491.67 L247.09 491.59 L246.73 491.54 L246.36 491.52 L246 491.53 L245.64 491.57 L245.28 491.63 L244.92 491.72 L244.57 491.83 L244.22 491.97 L243.87 492.14 L243.52 492.32 L243.17 492.54 L242.83 492.77 L242.49 493.03 L242.15 493.31 L241.82 493.61 L241.49 493.93 L241.16 494.28 L240.83 494.64 L240.51 495.02 L240.2 495.41 L239.88 495.83 L239.57 496.26 L239.27 496.7 L238.96 497.16 L238.67 497.63 L238.37 498.12 L238.08 498.61 L237.8 499.12 L237.52 499.64 L237.24 500.17 L236.97 500.7 L236.71 501.24 L236.45 501.79 L236.19 502.35 L235.93 502.93 L235.68 503.52 L235.42 504.14 L235.17 504.76 L234.92 505.4 L234.68 506.05 L234.44 506.71 L234.2 507.37 L233.97 508.03 L233.74 508.69 L233.52 509.35 L233.3 510.01 L233.09 510.66 L232.89 511.3 L232.7 511.93 L232.51 512.54 L232.33 513.13 L232.16 513.7 L232 514.25 L231.85 514.77 L231.71 515.26 L231.58 515.74 L231.45 516.21 L231.33 516.66 L231.21 517.1 L231.09 517.54 L230.98 517.96 L230.88 518.38 L230.77 518.79 L230.67 519.2 L230.57 519.61 L230.48 520.02 L230.38 520.43 L230.29 520.84 L230.19 521.27 L230.1 521.7 L230 522.14 L229.91 522.59 L229.81 523.07 L229.71 523.56 L229.61 524.07 L229.5 524.6" fill="none" stroke="#4a3a9a" stroke-width="2.6" stroke-linejoin="round" stroke-linecap="butt"/><rect x="229.5" y="375.6" width="148.9" height="149" fill="none" stroke="#7a7a7a" stroke-width="1.3"/><path d="M229.5 524.6h2.5 M229.5 494.8h2.5 M229.5 465h2.5 M229.5 435.2h2.5 M229.5 405.4h2.5 M229.5 375.6h2.5 M229.5 524.6v-2.2 M266.73 524.6v-2.2 M303.95 524.6v-2.2 M341.17 524.6v-2.2 M378.4 524.6v-2.2" stroke="#666" stroke-width="1" fill="none"/><text x="224" y="526.9" font-size="7" fill="#333" text-anchor="end" stroke="#333" stroke-width="0.2">0</text><text x="224" y="497.1" font-size="7" fill="#333" text-anchor="end" stroke="#333" stroke-width="0.2">10</text><text x="224" y="467.3" font-size="7" fill="#333" text-anchor="end" stroke="#333" stroke-width="0.2">20</text><text x="224" y="437.5" font-size="7" fill="#333" text-anchor="end" stroke="#333" stroke-width="0.2">30</text><text x="224" y="407.7" font-size="7" fill="#333" text-anchor="end" stroke="#333" stroke-width="0.2">40</text><text x="224" y="377.9" font-size="7" fill="#333" text-anchor="end" stroke="#333" stroke-width="0.2">50</text><text x="229.5" y="535" font-size="7" fill="#333" text-anchor="middle" stroke="#333" stroke-width="0.2">0</text><text x="266.73" y="535" font-size="7" fill="#333" text-anchor="middle" stroke="#333" stroke-width="0.2">2</text><text x="303.95" y="535" font-size="7" fill="#333" text-anchor="middle" stroke="#333" stroke-width="0.2">4</text><text x="341.17" y="535" font-size="7" fill="#333" text-anchor="middle" stroke="#333" stroke-width="0.2">6</text><text x="378.4" y="535" font-size="7" fill="#333" text-anchor="middle" stroke="#333" stroke-width="0.2">8</text><text x="303.95" y="544.7" font-size="7" fill="#222" text-anchor="middle" stroke="#222" stroke-width="0.2">Current [A]</text><text transform="translate(212.2 450.1) rotate(-90)" font-size="6.5" fill="#222" text-anchor="middle" stroke="#222" stroke-width="0.2"><tspan font-style="italic" font-size="7">P</tspan><tspan font-size="6.1" letter-spacing="0.45">ower</tspan><tspan font-size="6.5" dx="0.9">[W]</tspan></text><text x="231.5" y="390.5" font-size="10.5" fill="#111" stroke="#111" stroke-width="0.25">Q = 6 L/min</text><text x="195.5" y="381" font-size="11" font-weight="bold" fill="#111" stroke="#111" stroke-width="0.2">(F)</text><rect x="320.3" y="380" width="53.5" height="33.6" fill="#fff" stroke="#484848" stroke-width="1"/><circle cx="327" cy="385.6" r="1.1" fill="#6a3612"/><text x="329.6" y="388.4" font-size="6.1" fill="#1a1a1a" stroke="#1a1a1a" stroke-width="0.2">35<tspan fill="#777" font-size="5.6" stroke="#777" stroke-width="0.2">°</tspan><tspan fill="#777" font-size="5.6" dx="-0.7" stroke="#777" stroke-width="0.2">C</tspan></text><circle cx="353.7" cy="385.6" r="1.1" fill="#c8dc60"/><text x="356.3" y="388.4" font-size="6.1" fill="#1a1a1a" stroke="#1a1a1a" stroke-width="0.2">30<tspan fill="#777" font-size="5.6" stroke="#777" stroke-width="0.2">°</tspan><tspan fill="#777" font-size="5.6" dx="-0.7" stroke="#777" stroke-width="0.2">C</tspan></text><circle cx="327" cy="397.1" r="1.1" fill="#d8c890"/><text x="329.6" y="399.9" font-size="6.1" fill="#1a1a1a" stroke="#1a1a1a" stroke-width="0.2">25<tspan fill="#777" font-size="5.6" stroke="#777" stroke-width="0.2">°</tspan><tspan fill="#777" font-size="5.6" dx="-0.7" stroke="#777" stroke-width="0.2">C</tspan></text><circle cx="353.7" cy="397.1" r="1.1" fill="#8a88e0"/><text x="356.3" y="399.9" font-size="6.1" fill="#1a1a1a" stroke="#1a1a1a" stroke-width="0.2">20<tspan fill="#777" font-size="5.6" stroke="#777" stroke-width="0.2">°</tspan><tspan fill="#777" font-size="5.6" dx="-0.7" stroke="#777" stroke-width="0.2">C</tspan></text><circle cx="327" cy="408.6" r="1.1" fill="#141450"/><text x="329.6" y="411.4" font-size="6.1" fill="#1a1a1a" stroke="#1a1a1a" stroke-width="0.2">15<tspan fill="#777" font-size="5.6" stroke="#777" stroke-width="0.2">°</tspan><tspan fill="#777" font-size="5.6" dx="-0.7" stroke="#777" stroke-width="0.2">C</tspan></text><circle cx="353.7" cy="408.6" r="1.1" fill="#4a3a96"/><text x="356.3" y="411.4" font-size="6.1" fill="#1a1a1a" stroke="#1a1a1a" stroke-width="0.2">10<tspan fill="#777" font-size="5.6" stroke="#777" stroke-width="0.2">°</tspan><tspan fill="#777" font-size="5.6" dx="-0.7" stroke="#777" stroke-width="0.2">C</tspan></text></g>
</g>
</svg></body></html>
